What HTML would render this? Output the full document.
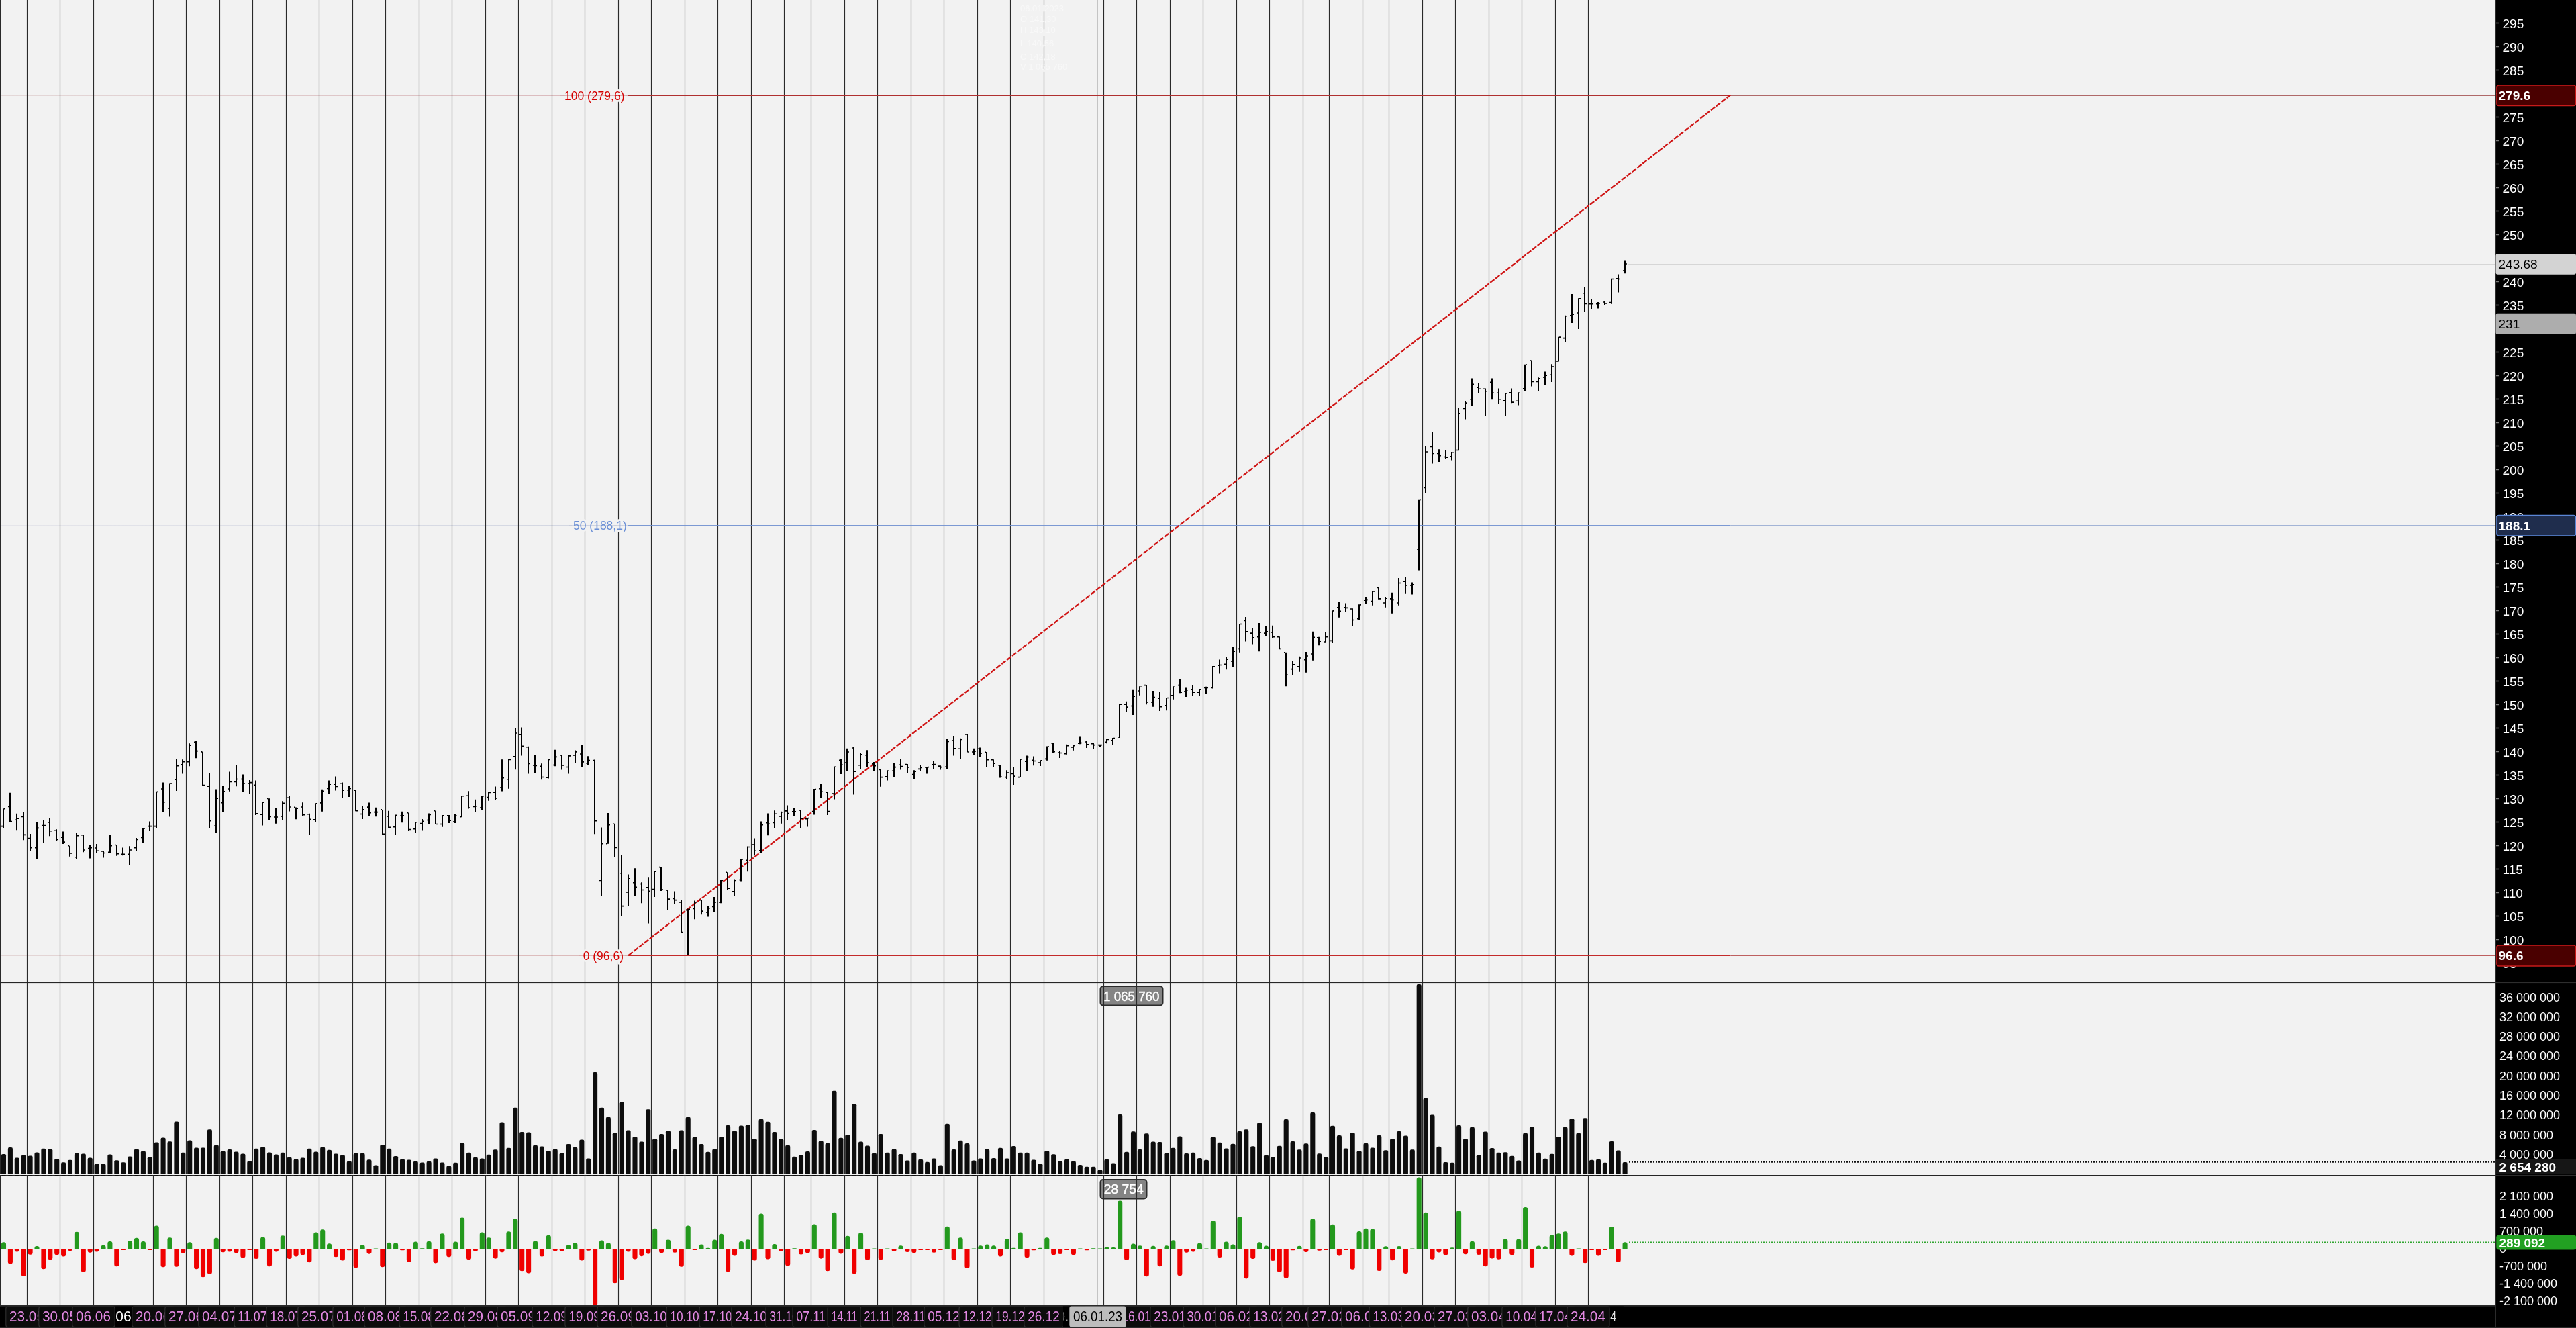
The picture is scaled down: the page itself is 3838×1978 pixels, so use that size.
<!DOCTYPE html>
<html><head><meta charset="utf-8"><title>Chart</title>
<style>html,body{margin:0;padding:0;background:#f2f2f2;}body{width:3838px;height:1978px;overflow:hidden;}svg{display:block;will-change:transform;}text{font-family:"Liberation Sans",Arial,sans-serif;}</style>
</head><body>
<svg width="3838" height="1978" viewBox="0 0 3838 1978">
<rect x="0" y="0" width="3838" height="1978" fill="#f2f2f2"/>
<rect x="0" y="482.0" width="3717" height="1" fill="#cfcfcf"/>
<rect x="2425" y="393.2" width="1292" height="1" fill="#cfcfcf"/>
<linearGradient id="fg0" x1="0" y1="0" x2="936" y2="0" gradientUnits="userSpaceOnUse"><stop offset="0" stop-color="#e0d2d2"/><stop offset="1" stop-color="#d4a9ad"/></linearGradient>
<rect x="0" y="141.80" width="936" height="1" fill="url(#fg0)"/>
<linearGradient id="fg1" x1="0" y1="0" x2="936" y2="0" gradientUnits="userSpaceOnUse"><stop offset="0" stop-color="#e0e0e7"/><stop offset="1" stop-color="#c3c9da"/></linearGradient>
<rect x="0" y="782.30" width="936" height="1" fill="url(#fg1)"/>
<linearGradient id="fg2" x1="0" y1="0" x2="936" y2="0" gradientUnits="userSpaceOnUse"><stop offset="0" stop-color="#e0d0d0"/><stop offset="1" stop-color="#d6aaaa"/></linearGradient>
<rect x="0" y="1422.80" width="936" height="1" fill="url(#fg2)"/>
<rect x="1639.5" y="1469" width="93" height="28.5" rx="4" fill="#848484" stroke="#2b2b2b" stroke-width="2"/>
<text x="1644" y="1490.5" font-size="20" fill="#fff" stroke="#fff" stroke-width="0.45" textLength="83.5" lengthAdjust="spacingAndGlyphs">1 065 760</text>
<rect x="1639.5" y="1757" width="69" height="28.5" rx="4" fill="#848484" stroke="#2b2b2b" stroke-width="2"/>
<text x="1644.8" y="1778.4" font-size="20" fill="#fff" stroke="#fff" stroke-width="0.45" textLength="59" lengthAdjust="spacingAndGlyphs">28 754</text>
<path d="M0 0V1943.5M40 0V1943.5M89 0V1943.5M139 0V1943.5M228 0V1943.5M277 0V1943.5M327 0V1943.5M376 0V1943.5M426 0V1943.5M475 0V1943.5M525 0V1943.5M574 0V1943.5M624 0V1943.5M673 0V1943.5M723 0V1943.5M772 0V1943.5M822 0V1943.5M871 0V1943.5M921 0V1943.5M970 0V1943.5M1020 0V1943.5M1069 0V1943.5M1119 0V1943.5M1168 0V1943.5M1208 0V1943.5M1258 0V1943.5M1307 0V1943.5M1357 0V1943.5M1406 0V1943.5M1456 0V1943.5M1505 0V1943.5M1555 0V1943.5M1644 0V1943.5M1693 0V1943.5M1743 0V1943.5M1792 0V1943.5M1842 0V1943.5M1891 0V1943.5M1941 0V1943.5M1980 0V1943.5M2030 0V1943.5M2069 0V1943.5M2119 0V1943.5M2168 0V1943.5M2218 0V1943.5M2267 0V1943.5M2317 0V1943.5M2366 0V1943.5" stroke="#2a2a2a" stroke-width="1.15" fill="none" transform="translate(0.5,0)"/>
<rect x="1635" y="0" width="1" height="1943.5" fill="#c4c4c4"/>
<text x="1520" y="16.5" font-size="13" fill="#f8f8f8">06.01.2023</text>
<text x="1520" y="33.0" font-size="13" fill="#f8f8f8">O 141,30</text>
<text x="1520" y="48.5" font-size="13" fill="#f8f8f8">H 143,10</text>
<text x="1520" y="69.0" font-size="13" fill="#f8f8f8">L 140,56</text>
<text x="1520" y="89.0" font-size="13" fill="#f8f8f8">C 142,18</text>
<text x="1520" y="104.0" font-size="13" fill="#f8f8f8">V 1 065 760</text>
<rect x="1554" y="7.4" width="3" height="9.9" fill="#f2f2f2"/>
<rect x="1554" y="43.3" width="3" height="10.4" fill="#f2f2f2"/>
<rect x="1554" y="66.7" width="3" height="1.7" fill="#f2f2f2"/>
<rect x="1554" y="103.5" width="3" height="3.4" fill="#f2f2f2"/>
<text x="841.0" y="148.5" font-size="17.5" fill="#f2f2f2" stroke="#f2f2f2" stroke-width="6" stroke-linejoin="round">100 (279,6)</text>
<text x="854.0" y="789.0" font-size="17.5" fill="#f2f2f2" stroke="#f2f2f2" stroke-width="6" stroke-linejoin="round">50 (188,1)</text>
<text x="868.7" y="1429.5" font-size="17.5" fill="#f2f2f2" stroke="#f2f2f2" stroke-width="6" stroke-linejoin="round">0 (96,6)</text>
<rect x="835.0" y="141.80" width="101.0" height="1" fill="#d4a9ad"/>
<rect x="936" y="141.60" width="1642.4" height="1.4" fill="#b03030"/>
<rect x="2578.4" y="141.70" width="1138.6" height="1.2" fill="#a85a5a"/>
<text x="841.0" y="148.5" font-size="17.5" fill="#d40000">100 (279,6)</text>
<rect x="848.0" y="782.30" width="88.0" height="1" fill="#c3c9da"/>
<rect x="936" y="782.10" width="1642.4" height="1.4" fill="#6f8fd0"/>
<rect x="2578.4" y="782.20" width="1138.6" height="1.2" fill="#8fa5cf"/>
<text x="854.0" y="789.0" font-size="17.5" fill="#6a8fd6">50 (188,1)</text>
<rect x="862.7" y="1422.80" width="73.3" height="1" fill="#d6aaaa"/>
<rect x="936" y="1422.60" width="1642.4" height="1.4" fill="#c42b2b"/>
<rect x="2578.4" y="1422.70" width="1138.6" height="1.2" fill="#b85050"/>
<text x="868.7" y="1429.5" font-size="17.5" fill="#d40000">0 (96,6)</text>
<line x1="936" y1="1423.3" x2="2578.4" y2="141.4" stroke="#cf1414" stroke-width="2.3" stroke-dasharray="7.9 2.03" stroke-dashoffset="-0.6"/>
<path d="M4.0 1204.2h2V1233.4h-2ZM2.0 1229.79h2v1.6h-2ZM6.0 1203.81h2v1.6h-2ZM14.0 1180.7h2V1224.0h-2ZM12.0 1200.61h2v1.6h-2ZM16.0 1222.64h2v1.6h-2ZM24.0 1211.8h2V1236.2h-2ZM22.0 1220.38h2v1.6h-2ZM26.0 1218.49h2v1.6h-2ZM34.0 1209.9h2V1251.3h-2ZM32.0 1215.67h2v1.6h-2ZM36.0 1242.59h2v1.6h-2ZM44.0 1241.9h2V1267.3h-2ZM42.0 1247.67h2v1.6h-2ZM46.0 1261.79h2v1.6h-2ZM54.0 1224.9h2V1279.2h-2ZM52.0 1261.79h2v1.6h-2ZM56.0 1232.61h2v1.6h-2ZM64.0 1221.2h2V1255.6h-2ZM62.0 1228.85h2v1.6h-2ZM66.0 1228.85h2v1.6h-2ZM73.0 1218.0h2V1245.3h-2ZM71.0 1224.14h2v1.6h-2ZM75.0 1236.94h2v1.6h-2ZM83.0 1235.3h2V1252.8h-2ZM81.0 1236.38h2v1.6h-2ZM85.0 1249.55h2v1.6h-2ZM93.0 1238.5h2V1256.9h-2ZM91.0 1246.35h2v1.6h-2ZM95.0 1253.32h2v1.6h-2ZM103.0 1259.8h2V1275.8h-2ZM101.0 1258.96h2v1.6h-2ZM105.0 1270.26h2v1.6h-2ZM113.0 1240.9h2V1279.9h-2ZM111.0 1275.91h2v1.6h-2ZM115.0 1243.91h2v1.6h-2ZM123.0 1243.4h2V1269.2h-2ZM121.0 1242.96h2v1.6h-2ZM125.0 1265.18h2v1.6h-2ZM133.0 1257.9h2V1278.6h-2ZM131.0 1262.73h2v1.6h-2ZM135.0 1261.79h2v1.6h-2ZM143.0 1256.9h2V1271.1h-2ZM141.0 1262.16h2v1.6h-2ZM145.0 1266.49h2v1.6h-2ZM153.0 1267.3h2V1277.6h-2ZM151.0 1267.06h2v1.6h-2ZM155.0 1269.69h2v1.6h-2ZM163.0 1244.1h2V1270.5h-2ZM161.0 1268.38h2v1.6h-2ZM165.0 1258.96h2v1.6h-2ZM173.0 1257.9h2V1274.8h-2ZM171.0 1257.65h2v1.6h-2ZM175.0 1270.82h2v1.6h-2ZM182.0 1262.6h2V1274.3h-2ZM180.0 1271.58h2v1.6h-2ZM184.0 1271.58h2v1.6h-2ZM192.0 1260.3h2V1288.0h-2ZM190.0 1271.58h2v1.6h-2ZM194.0 1265.18h2v1.6h-2ZM202.0 1247.9h2V1267.9h-2ZM200.0 1261.79h2v1.6h-2ZM204.0 1249.55h2v1.6h-2ZM212.0 1233.4h2V1256.0h-2ZM210.0 1246.73h2v1.6h-2ZM214.0 1233.18h2v1.6h-2ZM222.0 1223.4h2V1237.2h-2ZM220.0 1229.79h2v1.6h-2ZM224.0 1229.79h2v1.6h-2ZM232.0 1178.8h2V1233.4h-2ZM230.0 1229.79h2v1.6h-2ZM234.0 1178.59h2v1.6h-2ZM242.0 1165.6h2V1208.9h-2ZM240.0 1174.26h2v1.6h-2ZM244.0 1194.02h2v1.6h-2ZM252.0 1166.6h2V1216.5h-2ZM250.0 1203.06h2v1.6h-2ZM254.0 1166.16h2v1.6h-2ZM262.0 1130.8h2V1177.9h-2ZM260.0 1160.52h2v1.6h-2ZM264.0 1139.81h2v1.6h-2ZM271.0 1131.2h2V1152.5h-2ZM269.0 1137.93h2v1.6h-2ZM273.0 1133.79h2v1.6h-2ZM281.0 1107.3h2V1141.2h-2ZM279.0 1133.79h2v1.6h-2ZM283.0 1109.32h2v1.6h-2ZM291.0 1103.5h2V1129.3h-2ZM289.0 1104.61h2v1.6h-2ZM293.0 1117.79h2v1.6h-2ZM301.0 1119.5h2V1170.0h-2ZM299.0 1119.11h2v1.6h-2ZM303.0 1168.80h2v1.6h-2ZM311.0 1151.5h2V1234.0h-2ZM309.0 1170.49h2v1.6h-2ZM313.0 1221.88h2v1.6h-2ZM321.0 1175.6h2V1240.9h-2ZM319.0 1229.41h2v1.6h-2ZM323.0 1188.38h2v1.6h-2ZM331.0 1170.0h2V1208.9h-2ZM329.0 1194.96h2v1.6h-2ZM333.0 1178.02h2v1.6h-2ZM341.0 1149.6h2V1178.8h-2ZM339.0 1174.26h2v1.6h-2ZM343.0 1163.53h2v1.6h-2ZM351.0 1139.9h2V1171.3h-2ZM349.0 1163.53h2v1.6h-2ZM353.0 1159.76h2v1.6h-2ZM361.0 1153.4h2V1180.1h-2ZM359.0 1159.76h2v1.6h-2ZM363.0 1166.16h2v1.6h-2ZM371.0 1161.9h2V1182.6h-2ZM369.0 1166.16h2v1.6h-2ZM373.0 1164.85h2v1.6h-2ZM380.0 1162.4h2V1214.0h-2ZM378.0 1168.61h2v1.6h-2ZM382.0 1210.96h2v1.6h-2ZM390.0 1194.4h2V1229.6h-2ZM388.0 1212.47h2v1.6h-2ZM392.0 1194.40h2v1.6h-2ZM400.0 1189.2h2V1221.2h-2ZM398.0 1188.75h2v1.6h-2ZM402.0 1215.67h2v1.6h-2ZM410.0 1203.3h2V1226.8h-2ZM408.0 1216.24h2v1.6h-2ZM412.0 1216.24h2v1.6h-2ZM420.0 1193.3h2V1222.1h-2ZM418.0 1215.11h2v1.6h-2ZM422.0 1195.53h2v1.6h-2ZM430.0 1185.8h2V1208.4h-2ZM428.0 1187.44h2v1.6h-2ZM432.0 1201.18h2v1.6h-2ZM440.0 1202.4h2V1220.2h-2ZM438.0 1201.55h2v1.6h-2ZM442.0 1203.44h2v1.6h-2ZM450.0 1195.2h2V1215.9h-2ZM448.0 1201.18h2v1.6h-2ZM452.0 1212.85h2v1.6h-2ZM460.0 1211.8h2V1243.4h-2ZM458.0 1211.91h2v1.6h-2ZM462.0 1219.44h2v1.6h-2ZM469.0 1196.3h2V1224.0h-2ZM467.0 1220.00h2v1.6h-2ZM471.0 1195.91h2v1.6h-2ZM479.0 1175.8h2V1208.7h-2ZM477.0 1195.11h2v1.6h-2ZM481.0 1177.41h2v1.6h-2ZM489.0 1162.6h2V1182.4h-2ZM487.0 1173.65h2v1.6h-2ZM491.0 1167.44h2v1.6h-2ZM499.0 1156.4h2V1177.6h-2ZM497.0 1167.44h2v1.6h-2ZM501.0 1170.64h2v1.6h-2ZM509.0 1165.4h2V1188.4h-2ZM507.0 1166.49h2v1.6h-2ZM511.0 1176.28h2v1.6h-2ZM519.0 1170.7h2V1187.1h-2ZM517.0 1175.91h2v1.6h-2ZM521.0 1173.65h2v1.6h-2ZM529.0 1176.7h2V1208.3h-2ZM527.0 1176.47h2v1.6h-2ZM531.0 1206.96h2v1.6h-2ZM539.0 1200.2h2V1220.0h-2ZM537.0 1211.67h2v1.6h-2ZM541.0 1205.08h2v1.6h-2ZM549.0 1195.5h2V1215.3h-2ZM547.0 1201.32h2v1.6h-2ZM551.0 1209.79h2v1.6h-2ZM559.0 1202.7h2V1216.2h-2ZM557.0 1208.85h2v1.6h-2ZM561.0 1208.85h2v1.6h-2ZM569.0 1205.9h2V1243.0h-2ZM567.0 1205.08h2v1.6h-2ZM571.0 1241.41h2v1.6h-2ZM578.0 1207.8h2V1234.1h-2ZM576.0 1215.06h2v1.6h-2ZM580.0 1231.44h2v1.6h-2ZM588.0 1213.4h2V1243.0h-2ZM586.0 1230.87h2v1.6h-2ZM590.0 1213.55h2v1.6h-2ZM598.0 1208.7h2V1225.3h-2ZM596.0 1214.49h2v1.6h-2ZM600.0 1213.93h2v1.6h-2ZM608.0 1210.6h2V1236.9h-2ZM606.0 1209.79h2v1.6h-2ZM610.0 1234.64h2v1.6h-2ZM618.0 1224.1h2V1241.1h-2ZM616.0 1233.88h2v1.6h-2ZM620.0 1223.91h2v1.6h-2ZM628.0 1220.0h2V1236.6h-2ZM626.0 1225.79h2v1.6h-2ZM630.0 1222.59h2v1.6h-2ZM638.0 1211.5h2V1227.2h-2ZM636.0 1220.71h2v1.6h-2ZM640.0 1212.61h2v1.6h-2ZM648.0 1207.4h2V1227.9h-2ZM646.0 1206.96h2v1.6h-2ZM650.0 1226.73h2v1.6h-2ZM658.0 1214.0h2V1231.7h-2ZM656.0 1226.73h2v1.6h-2ZM660.0 1213.93h2v1.6h-2ZM668.0 1214.0h2V1226.0h-2ZM666.0 1213.93h2v1.6h-2ZM670.0 1221.46h2v1.6h-2ZM677.0 1212.8h2V1226.0h-2ZM675.0 1223.34h2v1.6h-2ZM679.0 1214.49h2v1.6h-2ZM687.0 1185.2h2V1217.2h-2ZM685.0 1215.81h2v1.6h-2ZM689.0 1184.94h2v1.6h-2ZM697.0 1178.2h2V1204.6h-2ZM695.0 1184.38h2v1.6h-2ZM699.0 1202.26h2v1.6h-2ZM707.0 1190.8h2V1209.6h-2ZM705.0 1200.75h2v1.6h-2ZM709.0 1200.00h2v1.6h-2ZM717.0 1185.2h2V1205.9h-2ZM715.0 1202.26h2v1.6h-2ZM719.0 1184.94h2v1.6h-2ZM727.0 1179.5h2V1192.7h-2ZM725.0 1186.82h2v1.6h-2ZM729.0 1179.67h2v1.6h-2ZM737.0 1171.4h2V1191.8h-2ZM735.0 1179.29h2v1.6h-2ZM739.0 1188.14h2v1.6h-2ZM747.0 1131.2h2V1178.6h-2ZM745.0 1172.14h2v1.6h-2ZM749.0 1158.02h2v1.6h-2ZM757.0 1130.6h2V1174.8h-2ZM755.0 1159.91h2v1.6h-2ZM759.0 1130.73h2v1.6h-2ZM767.0 1084.8h2V1146.2h-2ZM765.0 1126.02h2v1.6h-2ZM769.0 1091.20h2v1.6h-2ZM776.0 1083.5h2V1125.5h-2ZM774.0 1093.46h2v1.6h-2ZM778.0 1110.40h2v1.6h-2ZM786.0 1111.8h2V1152.6h-2ZM784.0 1111.91h2v1.6h-2ZM788.0 1136.75h2v1.6h-2ZM796.0 1124.9h2V1151.9h-2ZM794.0 1139.20h2v1.6h-2ZM798.0 1139.76h2v1.6h-2ZM806.0 1137.2h2V1161.3h-2ZM804.0 1140.52h2v1.6h-2ZM808.0 1156.71h2v1.6h-2ZM816.0 1130.6h2V1159.4h-2ZM814.0 1157.46h2v1.6h-2ZM818.0 1130.73h2v1.6h-2ZM826.0 1116.8h2V1141.3h-2ZM824.0 1138.64h2v1.6h-2ZM828.0 1126.59h2v1.6h-2ZM836.0 1124.0h2V1146.6h-2ZM834.0 1124.14h2v1.6h-2ZM838.0 1139.20h2v1.6h-2ZM846.0 1124.9h2V1152.6h-2ZM844.0 1141.65h2v1.6h-2ZM848.0 1125.08h2v1.6h-2ZM856.0 1117.4h2V1136.2h-2ZM854.0 1124.14h2v1.6h-2ZM858.0 1119.06h2v1.6h-2ZM866.0 1109.9h2V1141.9h-2ZM864.0 1122.26h2v1.6h-2ZM868.0 1134.12h2v1.6h-2ZM875.0 1126.3h2V1139.4h-2ZM873.0 1136.00h2v1.6h-2ZM877.0 1131.67h2v1.6h-2ZM885.0 1131.5h2V1242.2h-2ZM883.0 1131.67h2v1.6h-2ZM887.0 1222.02h2v1.6h-2ZM895.0 1232.4h2V1334.0h-2ZM893.0 1310.61h2v1.6h-2ZM897.0 1256.02h2v1.6h-2ZM905.0 1211.1h2V1256.8h-2ZM903.0 1256.02h2v1.6h-2ZM907.0 1227.79h2v1.6h-2ZM915.0 1226.7h2V1277.0h-2ZM913.0 1226.47h2v1.6h-2ZM917.0 1261.67h2v1.6h-2ZM925.0 1273.8h2V1364.1h-2ZM923.0 1299.88h2v1.6h-2ZM927.0 1348.82h2v1.6h-2ZM935.0 1302.6h2V1349.6h-2ZM933.0 1328.12h2v1.6h-2ZM937.0 1307.41h2v1.6h-2ZM945.0 1293.2h2V1334.9h-2ZM943.0 1313.81h2v1.6h-2ZM947.0 1320.59h2v1.6h-2ZM955.0 1314.2h2V1345.3h-2ZM953.0 1315.69h2v1.6h-2ZM957.0 1324.73h2v1.6h-2ZM965.0 1306.3h2V1375.4h-2ZM963.0 1320.96h2v1.6h-2ZM967.0 1326.61h2v1.6h-2ZM974.0 1297.3h2V1335.9h-2ZM972.0 1323.79h2v1.6h-2ZM976.0 1297.44h2v1.6h-2ZM984.0 1291.6h2V1327.0h-2ZM982.0 1290.85h2v1.6h-2ZM986.0 1324.35h2v1.6h-2ZM994.0 1325.5h2V1355.3h-2ZM992.0 1325.11h2v1.6h-2ZM996.0 1338.28h2v1.6h-2ZM1004.0 1327.4h2V1345.9h-2ZM1002.0 1337.53h2v1.6h-2ZM1006.0 1339.79h2v1.6h-2ZM1014.0 1340.6h2V1389.9h-2ZM1012.0 1343.18h2v1.6h-2ZM1016.0 1387.79h2v1.6h-2ZM1024.0 1353.8h2V1423.0h-2ZM1022.0 1354.85h2v1.6h-2ZM1026.0 1353.34h2v1.6h-2ZM1034.0 1341.5h2V1369.2h-2ZM1032.0 1352.59h2v1.6h-2ZM1036.0 1343.18h2v1.6h-2ZM1044.0 1340.6h2V1362.2h-2ZM1042.0 1339.79h2v1.6h-2ZM1046.0 1356.35h2v1.6h-2ZM1054.0 1349.1h2V1365.4h-2ZM1052.0 1358.24h2v1.6h-2ZM1056.0 1352.02h2v1.6h-2ZM1063.0 1335.9h2V1359.0h-2ZM1061.0 1349.58h2v1.6h-2ZM1065.0 1343.18h2v1.6h-2ZM1073.0 1310.5h2V1345.3h-2ZM1071.0 1343.18h2v1.6h-2ZM1075.0 1310.61h2v1.6h-2ZM1083.0 1299.2h2V1325.2h-2ZM1081.0 1298.38h2v1.6h-2ZM1085.0 1322.47h2v1.6h-2ZM1093.0 1309.5h2V1334.0h-2ZM1091.0 1326.99h2v1.6h-2ZM1095.0 1310.61h2v1.6h-2ZM1103.0 1279.4h2V1312.4h-2ZM1101.0 1309.67h2v1.6h-2ZM1105.0 1279.18h2v1.6h-2ZM1113.0 1260.6h2V1298.2h-2ZM1111.0 1280.49h2v1.6h-2ZM1115.0 1260.73h2v1.6h-2ZM1123.0 1248.4h2V1274.3h-2ZM1121.0 1257.34h2v1.6h-2ZM1125.0 1266.38h2v1.6h-2ZM1133.0 1223.5h2V1270.9h-2ZM1131.0 1266.00h2v1.6h-2ZM1135.0 1227.79h2v1.6h-2ZM1143.0 1211.6h2V1244.2h-2ZM1141.0 1224.96h2v1.6h-2ZM1145.0 1226.47h2v1.6h-2ZM1153.0 1207.3h2V1233.3h-2ZM1151.0 1224.59h2v1.6h-2ZM1155.0 1211.41h2v1.6h-2ZM1163.0 1208.8h2V1226.7h-2ZM1161.0 1215.18h2v1.6h-2ZM1165.0 1208.96h2v1.6h-2ZM1172.0 1199.4h2V1221.1h-2ZM1170.0 1207.08h2v1.6h-2ZM1174.0 1210.85h2v1.6h-2ZM1182.0 1204.1h2V1215.4h-2ZM1180.0 1208.02h2v1.6h-2ZM1184.0 1208.02h2v1.6h-2ZM1192.0 1206.0h2V1232.9h-2ZM1190.0 1206.14h2v1.6h-2ZM1194.0 1218.38h2v1.6h-2ZM1202.0 1217.9h2V1231.4h-2ZM1200.0 1218.94h2v1.6h-2ZM1204.0 1217.81h2v1.6h-2ZM1212.0 1175.0h2V1213.6h-2ZM1210.0 1208.05h2v1.6h-2ZM1214.0 1174.73h2v1.6h-2ZM1222.0 1168.0h2V1188.1h-2ZM1220.0 1173.79h2v1.6h-2ZM1224.0 1178.49h2v1.6h-2ZM1232.0 1179.3h2V1214.1h-2ZM1230.0 1179.44h2v1.6h-2ZM1234.0 1207.86h2v1.6h-2ZM1242.0 1141.6h2V1190.6h-2ZM1240.0 1181.32h2v1.6h-2ZM1244.0 1141.41h2v1.6h-2ZM1252.0 1130.9h2V1152.9h-2ZM1250.0 1131.44h2v1.6h-2ZM1254.0 1138.40h2v1.6h-2ZM1261.0 1114.7h2V1148.2h-2ZM1259.0 1135.20h2v1.6h-2ZM1263.0 1119.20h2v1.6h-2ZM1271.0 1112.5h2V1183.6h-2ZM1269.0 1113.18h2v1.6h-2ZM1273.0 1148.38h2v1.6h-2ZM1281.0 1121.5h2V1145.4h-2ZM1279.0 1138.96h2v1.6h-2ZM1283.0 1122.96h2v1.6h-2ZM1291.0 1117.2h2V1142.6h-2ZM1289.0 1123.91h2v1.6h-2ZM1293.0 1135.20h2v1.6h-2ZM1301.0 1135.1h2V1148.2h-2ZM1299.0 1137.08h2v1.6h-2ZM1303.0 1139.91h2v1.6h-2ZM1311.0 1145.4h2V1171.8h-2ZM1309.0 1145.55h2v1.6h-2ZM1313.0 1156.85h2v1.6h-2ZM1321.0 1147.3h2V1162.4h-2ZM1319.0 1155.91h2v1.6h-2ZM1323.0 1147.44h2v1.6h-2ZM1331.0 1136.9h2V1157.6h-2ZM1329.0 1147.44h2v1.6h-2ZM1333.0 1141.79h2v1.6h-2ZM1341.0 1130.9h2V1146.4h-2ZM1339.0 1138.40h2v1.6h-2ZM1343.0 1140.85h2v1.6h-2ZM1351.0 1137.9h2V1151.6h-2ZM1349.0 1137.65h2v1.6h-2ZM1353.0 1142.16h2v1.6h-2ZM1361.0 1147.3h2V1160.5h-2ZM1359.0 1152.71h2v1.6h-2ZM1363.0 1148.38h2v1.6h-2ZM1370.0 1139.2h2V1148.2h-2ZM1368.0 1144.61h2v1.6h-2ZM1372.0 1142.73h2v1.6h-2ZM1380.0 1142.2h2V1152.4h-2ZM1378.0 1142.16h2v1.6h-2ZM1382.0 1141.79h2v1.6h-2ZM1390.0 1133.6h2V1145.4h-2ZM1388.0 1138.02h2v1.6h-2ZM1392.0 1137.65h2v1.6h-2ZM1400.0 1140.3h2V1146.4h-2ZM1398.0 1140.28h2v1.6h-2ZM1402.0 1141.79h2v1.6h-2ZM1410.0 1100.8h2V1145.4h-2ZM1408.0 1141.41h2v1.6h-2ZM1412.0 1103.76h2v1.6h-2ZM1420.0 1095.9h2V1125.6h-2ZM1418.0 1102.26h2v1.6h-2ZM1422.0 1113.93h2v1.6h-2ZM1430.0 1099.7h2V1130.4h-2ZM1428.0 1114.49h2v1.6h-2ZM1432.0 1100.75h2v1.6h-2ZM1440.0 1093.6h2V1120.4h-2ZM1438.0 1093.22h2v1.6h-2ZM1442.0 1119.20h2v1.6h-2ZM1450.0 1114.7h2V1124.7h-2ZM1448.0 1119.20h2v1.6h-2ZM1452.0 1118.26h2v1.6h-2ZM1459.0 1113.4h2V1127.9h-2ZM1457.0 1114.49h2v1.6h-2ZM1461.0 1121.08h2v1.6h-2ZM1469.0 1120.0h2V1142.2h-2ZM1467.0 1119.58h2v1.6h-2ZM1471.0 1130.87h2v1.6h-2ZM1479.0 1131.3h2V1142.6h-2ZM1477.0 1130.87h2v1.6h-2ZM1481.0 1136.52h2v1.6h-2ZM1489.0 1139.2h2V1158.6h-2ZM1487.0 1138.96h2v1.6h-2ZM1491.0 1156.47h2v1.6h-2ZM1499.0 1147.3h2V1159.9h-2ZM1497.0 1156.85h2v1.6h-2ZM1501.0 1150.26h2v1.6h-2ZM1509.0 1142.2h2V1168.9h-2ZM1507.0 1151.58h2v1.6h-2ZM1511.0 1155.34h2v1.6h-2ZM1519.0 1130.4h2V1158.0h-2ZM1517.0 1156.85h2v1.6h-2ZM1521.0 1130.12h2v1.6h-2ZM1529.0 1125.6h2V1148.2h-2ZM1527.0 1133.32h2v1.6h-2ZM1531.0 1126.73h2v1.6h-2ZM1539.0 1126.6h2V1140.3h-2ZM1537.0 1131.44h2v1.6h-2ZM1541.0 1132.75h2v1.6h-2ZM1549.0 1132.2h2V1141.1h-2ZM1547.0 1135.20h2v1.6h-2ZM1551.0 1132.00h2v1.6h-2ZM1559.0 1111.5h2V1132.8h-2ZM1557.0 1129.55h2v1.6h-2ZM1561.0 1111.29h2v1.6h-2ZM1568.0 1105.9h2V1121.5h-2ZM1566.0 1106.02h2v1.6h-2ZM1570.0 1118.82h2v1.6h-2ZM1578.0 1119.1h2V1129.0h-2ZM1576.0 1120.14h2v1.6h-2ZM1580.0 1120.71h2v1.6h-2ZM1588.0 1108.7h2V1123.8h-2ZM1586.0 1122.02h2v1.6h-2ZM1590.0 1109.79h2v1.6h-2ZM1598.0 1109.6h2V1117.7h-2ZM1596.0 1112.05h2v1.6h-2ZM1600.0 1109.79h2v1.6h-2ZM1608.0 1096.5h2V1108.3h-2ZM1606.0 1106.40h2v1.6h-2ZM1610.0 1105.65h2v1.6h-2ZM1618.0 1104.0h2V1114.0h-2ZM1616.0 1104.14h2v1.6h-2ZM1620.0 1107.91h2v1.6h-2ZM1628.0 1106.8h2V1115.3h-2ZM1626.0 1106.96h2v1.6h-2ZM1630.0 1108.85h2v1.6h-2ZM1638.0 1108.7h2V1112.5h-2ZM1636.0 1108.85h2v1.6h-2ZM1640.0 1108.85h2v1.6h-2ZM1648.0 1100.2h2V1107.2h-2ZM1646.0 1104.52h2v1.6h-2ZM1650.0 1100.75h2v1.6h-2ZM1657.0 1099.0h2V1109.6h-2ZM1655.0 1102.01h2v1.6h-2ZM1659.0 1098.85h2v1.6h-2ZM1667.0 1048.6h2V1099.0h-2ZM1665.0 1097.04h2v1.6h-2ZM1669.0 1048.47h2v1.6h-2ZM1677.0 1044.8h2V1059.9h-2ZM1675.0 1048.47h2v1.6h-2ZM1679.0 1052.31h2v1.6h-2ZM1687.0 1026.7h2V1065.1h-2ZM1685.0 1050.73h2v1.6h-2ZM1689.0 1036.50h2v1.6h-2ZM1697.0 1022.2h2V1035.7h-2ZM1695.0 1028.15h2v1.6h-2ZM1699.0 1022.50h2v1.6h-2ZM1707.0 1019.9h2V1049.3h-2ZM1705.0 1019.79h2v1.6h-2ZM1709.0 1045.09h2v1.6h-2ZM1717.0 1028.9h2V1052.7h-2ZM1715.0 1045.09h2v1.6h-2ZM1719.0 1037.86h2v1.6h-2ZM1727.0 1030.1h2V1059.0h-2ZM1725.0 1039.44h2v1.6h-2ZM1729.0 1051.86h2v1.6h-2ZM1737.0 1039.1h2V1058.3h-2ZM1735.0 1050.06h2v1.6h-2ZM1739.0 1038.76h2v1.6h-2ZM1747.0 1022.2h2V1041.8h-2ZM1745.0 1034.92h2v1.6h-2ZM1749.0 1022.50h2v1.6h-2ZM1757.0 1011.6h2V1032.3h-2ZM1755.0 1019.79h2v1.6h-2ZM1759.0 1030.40h2v1.6h-2ZM1766.0 1024.4h2V1038.0h-2ZM1764.0 1029.27h2v1.6h-2ZM1768.0 1027.02h2v1.6h-2ZM1776.0 1019.9h2V1036.9h-2ZM1774.0 1025.89h2v1.6h-2ZM1778.0 1030.40h2v1.6h-2ZM1786.0 1026.0h2V1036.9h-2ZM1784.0 1030.40h2v1.6h-2ZM1788.0 1025.89h2v1.6h-2ZM1796.0 1022.8h2V1033.5h-2ZM1794.0 1023.63h2v1.6h-2ZM1798.0 1023.63h2v1.6h-2ZM1806.0 992.1h2V1025.6h-2ZM1804.0 1023.63h2v1.6h-2ZM1808.0 992.00h2v1.6h-2ZM1816.0 982.6h2V1003.4h-2ZM1814.0 990.42h2v1.6h-2ZM1818.0 989.74h2v1.6h-2ZM1826.0 978.1h2V997.3h-2ZM1824.0 988.61h2v1.6h-2ZM1828.0 981.39h2v1.6h-2ZM1836.0 963.4h2V993.9h-2ZM1834.0 984.10h2v1.6h-2ZM1838.0 969.41h2v1.6h-2ZM1846.0 928.9h2V971.8h-2ZM1844.0 965.57h2v1.6h-2ZM1848.0 928.76h2v1.6h-2ZM1855.0 918.9h2V955.5h-2ZM1853.0 923.56h2v1.6h-2ZM1857.0 940.05h2v1.6h-2ZM1865.0 935.7h2V959.6h-2ZM1863.0 942.31h2v1.6h-2ZM1867.0 949.08h2v1.6h-2ZM1875.0 928.0h2V970.2h-2ZM1873.0 947.96h2v1.6h-2ZM1877.0 941.18h2v1.6h-2ZM1885.0 932.9h2V946.9h-2ZM1883.0 942.31h2v1.6h-2ZM1887.0 940.05h2v1.6h-2ZM1895.0 931.8h2V949.9h-2ZM1893.0 941.18h2v1.6h-2ZM1897.0 947.96h2v1.6h-2ZM1905.0 948.3h2V967.3h-2ZM1903.0 947.96h2v1.6h-2ZM1907.0 965.57h2v1.6h-2ZM1915.0 971.8h2V1022.2h-2ZM1913.0 971.00h2v1.6h-2ZM1917.0 1004.43h2v1.6h-2ZM1925.0 984.9h2V1005.2h-2ZM1923.0 995.84h2v1.6h-2ZM1927.0 989.07h2v1.6h-2ZM1935.0 977.7h2V1000.7h-2ZM1933.0 992.00h2v1.6h-2ZM1937.0 979.13h2v1.6h-2ZM1945.0 970.9h2V1001.8h-2ZM1943.0 981.84h2v1.6h-2ZM1947.0 976.19h2v1.6h-2ZM1955.0 940.8h2V983.8h-2ZM1953.0 973.25h2v1.6h-2ZM1957.0 948.41h2v1.6h-2ZM1964.0 948.8h2V961.2h-2ZM1962.0 949.08h2v1.6h-2ZM1966.0 954.28h2v1.6h-2ZM1974.0 942.0h2V956.7h-2ZM1972.0 955.18h2v1.6h-2ZM1976.0 947.96h2v1.6h-2ZM1984.0 909.2h2V957.8h-2ZM1982.0 953.60h2v1.6h-2ZM1986.0 909.10h2v1.6h-2ZM1994.0 896.8h2V919.8h-2ZM1992.0 903.91h2v1.6h-2ZM1996.0 909.55h2v1.6h-2ZM2004.0 898.6h2V911.5h-2ZM2002.0 903.91h2v1.6h-2ZM2006.0 904.59h2v1.6h-2ZM2014.0 906.3h2V932.9h-2ZM2012.0 906.17h2v1.6h-2ZM2016.0 922.66h2v1.6h-2ZM2024.0 900.2h2V923.5h-2ZM2022.0 920.85h2v1.6h-2ZM2026.0 900.07h2v1.6h-2ZM2034.0 888.9h2V899.1h-2ZM2032.0 893.29h2v1.6h-2ZM2036.0 892.61h2v1.6h-2ZM2044.0 880.5h2V901.8h-2ZM2042.0 894.87h2v1.6h-2ZM2046.0 880.19h2v1.6h-2ZM2053.0 874.7h2V892.7h-2ZM2051.0 874.54h2v1.6h-2ZM2055.0 891.03h2v1.6h-2ZM2063.0 888.9h2V904.7h-2ZM2061.0 897.13h2v1.6h-2ZM2065.0 890.35h2v1.6h-2ZM2073.0 882.8h2V913.7h-2ZM2071.0 891.03h2v1.6h-2ZM2075.0 892.61h2v1.6h-2ZM2083.0 861.1h2V901.8h-2ZM2081.0 897.13h2v1.6h-2ZM2085.0 867.77h2v1.6h-2ZM2093.0 858.9h2V883.7h-2ZM2091.0 865.51h2v1.6h-2ZM2095.0 871.15h2v1.6h-2ZM2103.0 867.4h2V885.5h-2ZM2101.0 871.15h2v1.6h-2ZM2105.0 870.02h2v1.6h-2ZM2113.0 743.8h2V849.5h-2ZM2111.0 817.12h2v1.6h-2ZM2115.0 743.54h2v1.6h-2ZM2123.0 664.3h2V733.9h-2ZM2121.0 725.64h2v1.6h-2ZM2125.0 672.20h2v1.6h-2ZM2133.0 643.9h2V690.4h-2ZM2131.0 664.74h2v1.6h-2ZM2135.0 674.68h2v1.6h-2ZM2143.0 669.3h2V687.9h-2ZM2141.0 674.68h2v1.6h-2ZM2145.0 677.91h2v1.6h-2ZM2153.0 670.5h2V683.7h-2ZM2151.0 679.65h2v1.6h-2ZM2155.0 680.40h2v1.6h-2ZM2162.0 673.0h2V685.4h-2ZM2160.0 678.91h2v1.6h-2ZM2164.0 673.44h2v1.6h-2ZM2172.0 607.6h2V671.3h-2ZM2170.0 669.71h2v1.6h-2ZM2174.0 615.02h2v1.6h-2ZM2182.0 597.2h2V624.5h-2ZM2180.0 607.56h2v1.6h-2ZM2184.0 599.36h2v1.6h-2ZM2192.0 563.6h2V604.1h-2ZM2190.0 593.89h2v1.6h-2ZM2194.0 571.52h2v1.6h-2ZM2202.0 570.3h2V586.0h-2ZM2200.0 576.49h2v1.6h-2ZM2204.0 578.48h2v1.6h-2ZM2212.0 578.5h2V620.0h-2ZM2210.0 578.48h2v1.6h-2ZM2214.0 581.96h2v1.6h-2ZM2222.0 563.6h2V595.2h-2ZM2220.0 568.53h2v1.6h-2ZM2224.0 584.44h2v1.6h-2ZM2232.0 578.5h2V602.1h-2ZM2230.0 584.44h2v1.6h-2ZM2234.0 593.89h2v1.6h-2ZM2242.0 585.2h2V619.5h-2ZM2240.0 595.88h2v1.6h-2ZM2244.0 585.19h2v1.6h-2ZM2251.0 578.5h2V600.2h-2ZM2249.0 583.95h2v1.6h-2ZM2253.0 598.36h2v1.6h-2ZM2261.0 584.2h2V603.4h-2ZM2259.0 596.38h2v1.6h-2ZM2263.0 584.44h2v1.6h-2ZM2271.0 542.8h2V582.6h-2ZM2269.0 578.08h2v1.6h-2ZM2273.0 542.33h2v1.6h-2ZM2281.0 536.5h2V575.5h-2ZM2279.0 536.31h2v1.6h-2ZM2283.0 567.73h2v1.6h-2ZM2291.0 562.3h2V582.3h-2ZM2289.0 567.73h2v1.6h-2ZM2293.0 563.03h2v1.6h-2ZM2301.0 553.5h2V572.9h-2ZM2299.0 561.15h2v1.6h-2ZM2303.0 558.32h2v1.6h-2ZM2311.0 542.2h2V569.1h-2ZM2309.0 557.38h2v1.6h-2ZM2313.0 545.15h2v1.6h-2ZM2321.0 501.7h2V538.4h-2ZM2319.0 537.06h2v1.6h-2ZM2323.0 501.30h2v1.6h-2ZM2331.0 469.7h2V509.6h-2ZM2329.0 502.81h2v1.6h-2ZM2333.0 469.88h2v1.6h-2ZM2341.0 438.1h2V481.0h-2ZM2339.0 468.94h2v1.6h-2ZM2343.0 467.43h2v1.6h-2ZM2351.0 444.3h2V490.1h-2ZM2349.0 465.17h2v1.6h-2ZM2353.0 444.10h2v1.6h-2ZM2360.0 428.0h2V464.1h-2ZM2358.0 436.00h2v1.6h-2ZM2362.0 451.62h2v1.6h-2ZM2370.0 444.9h2V460.0h-2ZM2368.0 452.00h2v1.6h-2ZM2372.0 452.00h2v1.6h-2ZM2380.0 450.0h2V459.4h-2ZM2378.0 452.00h2v1.6h-2ZM2382.0 451.06h2v1.6h-2ZM2390.0 448.7h2V454.7h-2ZM2388.0 449.18h2v1.6h-2ZM2392.0 451.06h2v1.6h-2ZM2400.0 414.8h2V452.8h-2ZM2398.0 449.74h2v1.6h-2ZM2402.0 414.74h2v1.6h-2ZM2410.0 408.6h2V435.5h-2ZM2408.0 413.99h2v1.6h-2ZM2412.0 414.74h2v1.6h-2ZM2420.0 388.4h2V407.3h-2ZM2418.0 402.13h2v1.6h-2ZM2422.0 392.16h2v1.6h-2Z" fill="#000"/>
<rect x="0" y="1462.2" width="3838" height="1.9" fill="#262626"/>
<rect x="0" y="1750.0" width="3838" height="1.9" fill="#262626"/>
<g fill="#0d0d0d"><rect x="1.95" y="1719.1" width="7.1" height="32.1" rx="2.2"/><rect x="11.85" y="1709.1" width="7.1" height="42.1" rx="2.2"/><rect x="21.75" y="1724.5" width="7.1" height="26.7" rx="2.2"/><rect x="31.65" y="1720.7" width="7.1" height="30.5" rx="2.2"/><rect x="41.55" y="1721.4" width="7.1" height="29.8" rx="2.2"/><rect x="51.45" y="1716.5" width="7.1" height="34.7" rx="2.2"/><rect x="61.35" y="1710.7" width="7.1" height="40.5" rx="2.2"/><rect x="71.25" y="1711.4" width="7.1" height="39.8" rx="2.2"/><rect x="81.15" y="1725.9" width="7.1" height="25.3" rx="2.2"/><rect x="91.05" y="1731.2" width="7.1" height="20.0" rx="2.2"/><rect x="100.95" y="1727.7" width="7.1" height="23.5" rx="2.2"/><rect x="110.85" y="1717.7" width="7.1" height="33.5" rx="2.2"/><rect x="120.75" y="1718.4" width="7.1" height="32.8" rx="2.2"/><rect x="130.65" y="1724.5" width="7.1" height="26.7" rx="2.2"/><rect x="140.55" y="1733.5" width="7.1" height="17.7" rx="2.2"/><rect x="150.45" y="1733.5" width="7.1" height="17.7" rx="2.2"/><rect x="160.35" y="1719.6" width="7.1" height="31.6" rx="2.2"/><rect x="170.25" y="1728.2" width="7.1" height="23.0" rx="2.2"/><rect x="180.15" y="1731.2" width="7.1" height="20.0" rx="2.2"/><rect x="190.05" y="1722.4" width="7.1" height="28.8" rx="2.2"/><rect x="199.95" y="1711.4" width="7.1" height="39.8" rx="2.2"/><rect x="209.85" y="1714.4" width="7.1" height="36.8" rx="2.2"/><rect x="219.75" y="1723.1" width="7.1" height="28.1" rx="2.2"/><rect x="229.65" y="1701.4" width="7.1" height="49.8" rx="2.2"/><rect x="239.55" y="1694.4" width="7.1" height="56.8" rx="2.2"/><rect x="249.45" y="1700.2" width="7.1" height="51.0" rx="2.2"/><rect x="259.35" y="1670.6" width="7.1" height="80.6" rx="2.2"/><rect x="269.25" y="1716.8" width="7.1" height="34.4" rx="2.2"/><rect x="279.15" y="1698.6" width="7.1" height="52.6" rx="2.2"/><rect x="289.05" y="1709.5" width="7.1" height="41.7" rx="2.2"/><rect x="298.95" y="1709.5" width="7.1" height="41.7" rx="2.2"/><rect x="308.85" y="1682.3" width="7.1" height="68.9" rx="2.2"/><rect x="318.75" y="1705.6" width="7.1" height="45.6" rx="2.2"/><rect x="328.65" y="1714.4" width="7.1" height="36.8" rx="2.2"/><rect x="338.55" y="1711.9" width="7.1" height="39.3" rx="2.2"/><rect x="348.45" y="1715.4" width="7.1" height="35.8" rx="2.2"/><rect x="358.35" y="1718.4" width="7.1" height="32.8" rx="2.2"/><rect x="368.25" y="1729.6" width="7.1" height="21.6" rx="2.2"/><rect x="378.15" y="1710.7" width="7.1" height="40.5" rx="2.2"/><rect x="388.05" y="1707.9" width="7.1" height="43.3" rx="2.2"/><rect x="397.95" y="1716.5" width="7.1" height="34.7" rx="2.2"/><rect x="407.85" y="1719.6" width="7.1" height="31.6" rx="2.2"/><rect x="417.75" y="1716.8" width="7.1" height="34.4" rx="2.2"/><rect x="427.65" y="1723.8" width="7.1" height="27.4" rx="2.2"/><rect x="437.55" y="1726.6" width="7.1" height="24.6" rx="2.2"/><rect x="447.45" y="1724.5" width="7.1" height="26.7" rx="2.2"/><rect x="457.35" y="1710.7" width="7.1" height="40.5" rx="2.2"/><rect x="467.25" y="1715.6" width="7.1" height="35.6" rx="2.2"/><rect x="477.15" y="1708.6" width="7.1" height="42.6" rx="2.2"/><rect x="487.05" y="1712.8" width="7.1" height="38.4" rx="2.2"/><rect x="496.95" y="1718.4" width="7.1" height="32.8" rx="2.2"/><rect x="506.85" y="1720.3" width="7.1" height="30.9" rx="2.2"/><rect x="516.75" y="1729.6" width="7.1" height="21.6" rx="2.2"/><rect x="526.65" y="1717.7" width="7.1" height="33.5" rx="2.2"/><rect x="536.55" y="1717.7" width="7.1" height="33.5" rx="2.2"/><rect x="546.45" y="1727.2" width="7.1" height="24.0" rx="2.2"/><rect x="556.35" y="1735.4" width="7.1" height="15.8" rx="2.2"/><rect x="566.25" y="1704.9" width="7.1" height="46.3" rx="2.2"/><rect x="576.15" y="1710.7" width="7.1" height="40.5" rx="2.2"/><rect x="586.05" y="1722.1" width="7.1" height="29.1" rx="2.2"/><rect x="595.95" y="1726.2" width="7.1" height="25.0" rx="2.2"/><rect x="605.85" y="1727.4" width="7.1" height="23.8" rx="2.2"/><rect x="615.75" y="1729.7" width="7.1" height="21.5" rx="2.2"/><rect x="625.65" y="1731.4" width="7.1" height="19.8" rx="2.2"/><rect x="635.55" y="1729.7" width="7.1" height="21.5" rx="2.2"/><rect x="645.45" y="1725.5" width="7.1" height="25.7" rx="2.2"/><rect x="655.35" y="1731.4" width="7.1" height="19.8" rx="2.2"/><rect x="665.25" y="1736.5" width="7.1" height="14.7" rx="2.2"/><rect x="675.15" y="1731.8" width="7.1" height="19.4" rx="2.2"/><rect x="685.05" y="1702.3" width="7.1" height="48.9" rx="2.2"/><rect x="694.95" y="1716.7" width="7.1" height="34.5" rx="2.2"/><rect x="704.85" y="1723.7" width="7.1" height="27.5" rx="2.2"/><rect x="714.75" y="1725.5" width="7.1" height="25.7" rx="2.2"/><rect x="724.65" y="1719.7" width="7.1" height="31.5" rx="2.2"/><rect x="734.55" y="1712.3" width="7.1" height="38.9" rx="2.2"/><rect x="744.45" y="1671.5" width="7.1" height="79.7" rx="2.2"/><rect x="754.35" y="1709.7" width="7.1" height="41.5" rx="2.2"/><rect x="764.25" y="1649.8" width="7.1" height="101.4" rx="2.2"/><rect x="774.15" y="1685.9" width="7.1" height="65.3" rx="2.2"/><rect x="784.05" y="1686.4" width="7.1" height="64.8" rx="2.2"/><rect x="793.95" y="1705.7" width="7.1" height="45.5" rx="2.2"/><rect x="803.85" y="1707.6" width="7.1" height="43.6" rx="2.2"/><rect x="813.75" y="1713.9" width="7.1" height="37.3" rx="2.2"/><rect x="823.65" y="1711.6" width="7.1" height="39.6" rx="2.2"/><rect x="833.55" y="1717.4" width="7.1" height="33.8" rx="2.2"/><rect x="843.45" y="1703.9" width="7.1" height="47.3" rx="2.2"/><rect x="853.35" y="1708.8" width="7.1" height="42.4" rx="2.2"/><rect x="863.25" y="1697.6" width="7.1" height="53.6" rx="2.2"/><rect x="873.15" y="1725.5" width="7.1" height="25.7" rx="2.2"/><rect x="883.05" y="1597.0" width="7.1" height="154.2" rx="2.2"/><rect x="892.95" y="1649.8" width="7.1" height="101.4" rx="2.2"/><rect x="902.85" y="1663.8" width="7.1" height="87.4" rx="2.2"/><rect x="912.75" y="1687.1" width="7.1" height="64.1" rx="2.2"/><rect x="922.65" y="1641.2" width="7.1" height="110.0" rx="2.2"/><rect x="932.55" y="1683.6" width="7.1" height="67.6" rx="2.2"/><rect x="942.45" y="1692.9" width="7.1" height="58.3" rx="2.2"/><rect x="952.35" y="1700.6" width="7.1" height="50.6" rx="2.2"/><rect x="962.25" y="1652.2" width="7.1" height="99.0" rx="2.2"/><rect x="972.15" y="1696.0" width="7.1" height="55.2" rx="2.2"/><rect x="982.05" y="1689.0" width="7.1" height="62.2" rx="2.2"/><rect x="991.95" y="1684.1" width="7.1" height="67.1" rx="2.2"/><rect x="1001.85" y="1712.0" width="7.1" height="39.2" rx="2.2"/><rect x="1011.75" y="1683.6" width="7.1" height="67.6" rx="2.2"/><rect x="1021.65" y="1663.8" width="7.1" height="87.4" rx="2.2"/><rect x="1031.55" y="1693.6" width="7.1" height="57.6" rx="2.2"/><rect x="1041.45" y="1703.9" width="7.1" height="47.3" rx="2.2"/><rect x="1051.35" y="1715.8" width="7.1" height="35.4" rx="2.2"/><rect x="1061.25" y="1711.6" width="7.1" height="39.6" rx="2.2"/><rect x="1071.15" y="1692.9" width="7.1" height="58.3" rx="2.2"/><rect x="1081.05" y="1675.9" width="7.1" height="75.3" rx="2.2"/><rect x="1090.95" y="1684.1" width="7.1" height="67.1" rx="2.2"/><rect x="1100.85" y="1676.6" width="7.1" height="74.6" rx="2.2"/><rect x="1110.75" y="1675.0" width="7.1" height="76.2" rx="2.2"/><rect x="1120.65" y="1696.0" width="7.1" height="55.2" rx="2.2"/><rect x="1130.55" y="1666.8" width="7.1" height="84.4" rx="2.2"/><rect x="1140.45" y="1670.8" width="7.1" height="80.4" rx="2.2"/><rect x="1150.35" y="1685.9" width="7.1" height="65.3" rx="2.2"/><rect x="1160.25" y="1696.4" width="7.1" height="54.8" rx="2.2"/><rect x="1170.15" y="1705.7" width="7.1" height="45.5" rx="2.2"/><rect x="1180.05" y="1722.8" width="7.1" height="28.4" rx="2.2"/><rect x="1189.95" y="1720.4" width="7.1" height="30.8" rx="2.2"/><rect x="1199.85" y="1715.1" width="7.1" height="36.1" rx="2.2"/><rect x="1209.75" y="1682.9" width="7.1" height="68.3" rx="2.2"/><rect x="1219.65" y="1699.2" width="7.1" height="52.0" rx="2.2"/><rect x="1229.55" y="1702.7" width="7.1" height="48.5" rx="2.2"/><rect x="1239.45" y="1624.7" width="7.1" height="126.5" rx="2.2"/><rect x="1249.35" y="1694.8" width="7.1" height="56.4" rx="2.2"/><rect x="1259.25" y="1689.9" width="7.1" height="61.3" rx="2.2"/><rect x="1269.15" y="1644.0" width="7.1" height="107.2" rx="2.2"/><rect x="1279.05" y="1700.6" width="7.1" height="50.6" rx="2.2"/><rect x="1288.95" y="1706.4" width="7.1" height="44.8" rx="2.2"/><rect x="1298.85" y="1717.4" width="7.1" height="33.8" rx="2.2"/><rect x="1308.75" y="1689.0" width="7.1" height="62.2" rx="2.2"/><rect x="1318.65" y="1716.7" width="7.1" height="34.5" rx="2.2"/><rect x="1328.55" y="1711.6" width="7.1" height="39.6" rx="2.2"/><rect x="1338.45" y="1719.0" width="7.1" height="32.2" rx="2.2"/><rect x="1348.35" y="1728.6" width="7.1" height="22.6" rx="2.2"/><rect x="1358.25" y="1716.7" width="7.1" height="34.5" rx="2.2"/><rect x="1368.15" y="1726.7" width="7.1" height="24.5" rx="2.2"/><rect x="1378.05" y="1730.7" width="7.1" height="20.5" rx="2.2"/><rect x="1387.95" y="1725.5" width="7.1" height="25.7" rx="2.2"/><rect x="1397.85" y="1735.6" width="7.1" height="15.6" rx="2.2"/><rect x="1407.75" y="1673.8" width="7.1" height="77.4" rx="2.2"/><rect x="1417.65" y="1712.0" width="7.1" height="39.2" rx="2.2"/><rect x="1427.55" y="1698.8" width="7.1" height="52.4" rx="2.2"/><rect x="1437.45" y="1703.0" width="7.1" height="48.2" rx="2.2"/><rect x="1447.35" y="1728.6" width="7.1" height="22.6" rx="2.2"/><rect x="1457.25" y="1725.5" width="7.1" height="25.7" rx="2.2"/><rect x="1467.15" y="1711.6" width="7.1" height="39.6" rx="2.2"/><rect x="1477.05" y="1725.1" width="7.1" height="26.1" rx="2.2"/><rect x="1486.95" y="1709.7" width="7.1" height="41.5" rx="2.2"/><rect x="1496.85" y="1725.5" width="7.1" height="25.7" rx="2.2"/><rect x="1506.75" y="1706.9" width="7.1" height="44.3" rx="2.2"/><rect x="1516.65" y="1716.7" width="7.1" height="34.5" rx="2.2"/><rect x="1526.55" y="1716.7" width="7.1" height="34.5" rx="2.2"/><rect x="1536.45" y="1727.4" width="7.1" height="23.8" rx="2.2"/><rect x="1546.35" y="1733.0" width="7.1" height="18.2" rx="2.2"/><rect x="1556.25" y="1713.9" width="7.1" height="37.3" rx="2.2"/><rect x="1566.15" y="1719.3" width="7.1" height="31.9" rx="2.2"/><rect x="1576.05" y="1729.5" width="7.1" height="21.7" rx="2.2"/><rect x="1585.95" y="1726.7" width="7.1" height="24.5" rx="2.2"/><rect x="1595.85" y="1729.5" width="7.1" height="21.7" rx="2.2"/><rect x="1605.75" y="1734.9" width="7.1" height="16.3" rx="2.2"/><rect x="1615.65" y="1737.7" width="7.1" height="13.5" rx="2.2"/><rect x="1625.55" y="1737.7" width="7.1" height="13.5" rx="2.2"/><rect x="1635.45" y="1742.3" width="7.1" height="8.9" rx="2.2"/><rect x="1645.35" y="1726.7" width="7.1" height="24.5" rx="2.2"/><rect x="1655.25" y="1732.5" width="7.1" height="18.7" rx="2.2"/><rect x="1665.15" y="1659.9" width="7.1" height="91.3" rx="2.2"/><rect x="1675.05" y="1715.8" width="7.1" height="35.4" rx="2.2"/><rect x="1684.95" y="1685.3" width="7.1" height="65.9" rx="2.2"/><rect x="1694.85" y="1712.0" width="7.1" height="39.2" rx="2.2"/><rect x="1704.75" y="1688.3" width="7.1" height="62.9" rx="2.2"/><rect x="1714.65" y="1700.6" width="7.1" height="50.6" rx="2.2"/><rect x="1724.55" y="1701.1" width="7.1" height="50.1" rx="2.2"/><rect x="1734.45" y="1717.4" width="7.1" height="33.8" rx="2.2"/><rect x="1744.35" y="1709.7" width="7.1" height="41.5" rx="2.2"/><rect x="1754.25" y="1692.5" width="7.1" height="58.7" rx="2.2"/><rect x="1764.15" y="1718.1" width="7.1" height="33.1" rx="2.2"/><rect x="1774.05" y="1716.8" width="7.1" height="34.4" rx="2.2"/><rect x="1783.95" y="1724.9" width="7.1" height="26.3" rx="2.2"/><rect x="1793.85" y="1727.7" width="7.1" height="23.5" rx="2.2"/><rect x="1803.75" y="1693.2" width="7.1" height="58.0" rx="2.2"/><rect x="1813.65" y="1701.8" width="7.1" height="49.4" rx="2.2"/><rect x="1823.55" y="1710.5" width="7.1" height="40.7" rx="2.2"/><rect x="1833.45" y="1703.8" width="7.1" height="47.5" rx="2.2"/><rect x="1843.35" y="1685.0" width="7.1" height="66.2" rx="2.2"/><rect x="1853.25" y="1682.3" width="7.1" height="68.9" rx="2.2"/><rect x="1863.15" y="1707.3" width="7.1" height="43.9" rx="2.2"/><rect x="1873.05" y="1672.0" width="7.1" height="79.2" rx="2.2"/><rect x="1882.95" y="1720.3" width="7.1" height="30.9" rx="2.2"/><rect x="1892.85" y="1723.6" width="7.1" height="27.6" rx="2.2"/><rect x="1902.75" y="1706.7" width="7.1" height="44.5" rx="2.2"/><rect x="1912.65" y="1667.1" width="7.1" height="84.1" rx="2.2"/><rect x="1922.55" y="1699.9" width="7.1" height="51.3" rx="2.2"/><rect x="1932.45" y="1712.2" width="7.1" height="39.0" rx="2.2"/><rect x="1942.35" y="1703.2" width="7.1" height="48.0" rx="2.2"/><rect x="1952.25" y="1657.0" width="7.1" height="94.2" rx="2.2"/><rect x="1962.15" y="1718.2" width="7.1" height="33.0" rx="2.2"/><rect x="1972.05" y="1723.0" width="7.1" height="28.2" rx="2.2"/><rect x="1981.95" y="1676.8" width="7.1" height="74.4" rx="2.2"/><rect x="1991.85" y="1691.0" width="7.1" height="60.2" rx="2.2"/><rect x="2001.75" y="1710.5" width="7.1" height="40.7" rx="2.2"/><rect x="2011.65" y="1686.9" width="7.1" height="64.3" rx="2.2"/><rect x="2021.55" y="1714.1" width="7.1" height="37.1" rx="2.2"/><rect x="2031.45" y="1702.7" width="7.1" height="48.5" rx="2.2"/><rect x="2041.35" y="1709.5" width="7.1" height="41.7" rx="2.2"/><rect x="2051.25" y="1691.0" width="7.1" height="60.2" rx="2.2"/><rect x="2061.15" y="1713.3" width="7.1" height="37.9" rx="2.2"/><rect x="2071.05" y="1695.9" width="7.1" height="55.3" rx="2.2"/><rect x="2080.95" y="1685.0" width="7.1" height="66.2" rx="2.2"/><rect x="2090.85" y="1691.5" width="7.1" height="59.7" rx="2.2"/><rect x="2100.75" y="1712.2" width="7.1" height="39.0" rx="2.2"/><rect x="2110.65" y="1466.0" width="7.1" height="285.2" rx="2.2"/><rect x="2120.55" y="1635.8" width="7.1" height="115.4" rx="2.2"/><rect x="2130.45" y="1660.5" width="7.1" height="90.7" rx="2.2"/><rect x="2140.35" y="1707.8" width="7.1" height="43.4" rx="2.2"/><rect x="2150.25" y="1730.9" width="7.1" height="20.3" rx="2.2"/><rect x="2160.15" y="1731.7" width="7.1" height="19.5" rx="2.2"/><rect x="2170.05" y="1676.0" width="7.1" height="75.2" rx="2.2"/><rect x="2179.95" y="1695.9" width="7.1" height="55.3" rx="2.2"/><rect x="2189.85" y="1678.8" width="7.1" height="72.5" rx="2.2"/><rect x="2199.75" y="1720.1" width="7.1" height="31.1" rx="2.2"/><rect x="2209.65" y="1685.5" width="7.1" height="65.7" rx="2.2"/><rect x="2219.55" y="1710.0" width="7.1" height="41.2" rx="2.2"/><rect x="2229.45" y="1716.8" width="7.1" height="34.4" rx="2.2"/><rect x="2239.35" y="1716.2" width="7.1" height="35.0" rx="2.2"/><rect x="2249.25" y="1721.7" width="7.1" height="29.5" rx="2.2"/><rect x="2259.15" y="1728.5" width="7.1" height="22.7" rx="2.2"/><rect x="2269.05" y="1687.7" width="7.1" height="63.5" rx="2.2"/><rect x="2278.95" y="1677.9" width="7.1" height="73.3" rx="2.2"/><rect x="2288.85" y="1716.8" width="7.1" height="34.4" rx="2.2"/><rect x="2298.75" y="1725.8" width="7.1" height="25.4" rx="2.2"/><rect x="2308.65" y="1718.7" width="7.1" height="32.5" rx="2.2"/><rect x="2318.55" y="1692.9" width="7.1" height="58.3" rx="2.2"/><rect x="2328.45" y="1678.8" width="7.1" height="72.5" rx="2.2"/><rect x="2338.35" y="1666.0" width="7.1" height="85.2" rx="2.2"/><rect x="2348.25" y="1687.7" width="7.1" height="63.5" rx="2.2"/><rect x="2358.15" y="1665.2" width="7.1" height="86.0" rx="2.2"/><rect x="2368.05" y="1727.7" width="7.1" height="23.5" rx="2.2"/><rect x="2377.95" y="1726.8" width="7.1" height="24.4" rx="2.2"/><rect x="2387.85" y="1731.7" width="7.1" height="19.5" rx="2.2"/><rect x="2397.75" y="1699.9" width="7.1" height="51.3" rx="2.2"/><rect x="2407.65" y="1713.5" width="7.1" height="37.7" rx="2.2"/><rect x="2417.55" y="1730.9" width="7.1" height="20.3" rx="2.2"/></g>
<rect x="0" y="1748.7" width="3717" height="1.3" fill="#f2f2f2"/>
<line x1="2427" y1="1730.9" x2="3717" y2="1730.9" stroke="#111" stroke-width="1.6" stroke-dasharray="2 2"/>
<path fill="#23991d" d="M1.95 1860.70V1853.48Q1.95 1850.18 5.25 1850.18H5.75Q9.05 1850.18 9.05 1853.48V1860.70ZM51.45 1860.70V1859.30Q51.45 1856.00 54.75 1856.00H55.25Q58.55 1856.00 58.55 1859.30V1860.70ZM110.85 1860.70V1838.11Q110.85 1834.81 114.15 1834.81H114.65Q117.95 1834.81 117.95 1838.11V1860.70ZM150.45 1860.70V1858.14Q150.45 1854.84 153.75 1854.84H154.25Q157.55 1854.84 157.55 1858.14V1860.70ZM160.35 1860.70V1852.31Q160.35 1849.01 163.65 1849.01H164.15Q167.45 1849.01 167.45 1852.31V1860.70ZM190.05 1860.70V1851.62Q190.05 1848.32 193.35 1848.32H193.85Q197.15 1848.32 197.15 1851.62V1860.70ZM199.95 1860.70V1846.96Q199.95 1843.66 203.25 1843.66H203.75Q207.05 1843.66 207.05 1846.96V1860.70ZM209.85 1860.70V1852.31Q209.85 1849.01 213.15 1849.01H213.65Q216.95 1849.01 216.95 1852.31V1860.70ZM229.65 1860.70V1828.79Q229.65 1825.49 232.95 1825.49H233.45Q236.75 1825.49 236.75 1828.79V1860.70ZM249.45 1860.70V1846.49Q249.45 1843.19 252.75 1843.19H253.25Q256.55 1843.19 256.55 1846.49V1860.70ZM279.15 1860.70V1853.48Q279.15 1850.18 282.45 1850.18H282.95Q286.25 1850.18 286.25 1853.48V1860.70ZM318.75 1860.70V1846.96Q318.75 1843.66 322.05 1843.66H322.55Q325.85 1843.66 325.85 1846.96V1860.70ZM388.05 1860.70V1845.79Q388.05 1842.49 391.35 1842.49H391.85Q395.15 1842.49 395.15 1845.79V1860.70ZM417.75 1860.70V1843.46Q417.75 1840.16 421.05 1840.16H421.55Q424.85 1840.16 424.85 1843.46V1860.70ZM467.25 1860.70V1838.80Q467.25 1835.50 470.55 1835.50H471.05Q474.35 1835.50 474.35 1838.80V1860.70ZM477.15 1860.70V1834.61Q477.15 1831.31 480.45 1831.31H480.95Q484.25 1831.31 484.25 1834.61V1860.70ZM487.05 1860.70V1855.58Q487.05 1852.28 490.35 1852.28H490.85Q494.15 1852.28 494.15 1855.58V1860.70ZM536.55 1860.70V1857.44Q536.55 1854.14 539.85 1854.14H540.35Q543.65 1854.14 543.65 1857.44V1860.70ZM556.35 1860.70V1860.70Q556.35 1859.50 557.55 1859.50H562.25Q563.45 1859.50 563.45 1860.70V1860.70ZM576.15 1860.70V1853.95Q576.15 1850.65 579.45 1850.65H579.95Q583.25 1850.65 583.25 1853.95V1860.70ZM586.05 1860.70V1854.64Q586.05 1851.34 589.35 1851.34H589.85Q593.15 1851.34 593.15 1854.64V1860.70ZM615.75 1860.70V1852.78Q615.75 1849.48 619.05 1849.48H619.55Q622.85 1849.48 622.85 1852.78V1860.70ZM625.65 1860.70V1860.70Q625.65 1859.26 627.09 1859.26H631.31Q632.75 1859.26 632.75 1860.70V1860.70ZM635.55 1860.70V1852.08Q635.55 1848.78 638.85 1848.78H639.35Q642.65 1848.78 642.65 1852.08V1860.70ZM655.35 1860.70V1840.67Q655.35 1837.37 658.65 1837.37H659.15Q662.45 1837.37 662.45 1840.67V1860.70ZM675.15 1860.70V1852.78Q675.15 1849.48 678.45 1849.48H678.95Q682.25 1849.48 682.25 1852.78V1860.70ZM685.05 1860.70V1816.91Q685.05 1813.61 688.35 1813.61H688.85Q692.15 1813.61 692.15 1816.91V1860.70ZM714.75 1860.70V1838.80Q714.75 1835.50 718.05 1835.50H718.55Q721.85 1835.50 721.85 1838.80V1860.70ZM724.65 1860.70V1846.49Q724.65 1843.19 727.95 1843.19H728.45Q731.75 1843.19 731.75 1846.49V1860.70ZM754.35 1860.70V1837.64Q754.35 1834.34 757.65 1834.34H758.15Q761.45 1834.34 761.45 1837.64V1860.70ZM764.25 1860.70V1818.54Q764.25 1815.24 767.55 1815.24H768.05Q771.35 1815.24 771.35 1818.54V1860.70ZM793.95 1860.70V1851.62Q793.95 1848.32 797.25 1848.32H797.75Q801.05 1848.32 801.05 1851.62V1860.70ZM813.75 1860.70V1843.00Q813.75 1839.70 817.05 1839.70H817.55Q820.85 1839.70 820.85 1843.00V1860.70ZM843.45 1860.70V1857.91Q843.45 1854.61 846.75 1854.61H847.25Q850.55 1854.61 850.55 1857.91V1860.70ZM853.35 1860.70V1854.64Q853.35 1851.34 856.65 1851.34H857.15Q860.45 1851.34 860.45 1854.64V1860.70ZM892.95 1860.70V1850.92Q892.95 1847.62 896.25 1847.62H896.75Q900.05 1847.62 900.05 1850.92V1860.70ZM902.85 1860.70V1854.64Q902.85 1851.34 906.15 1851.34H906.65Q909.95 1851.34 909.95 1854.64V1860.70ZM972.15 1860.70V1832.98Q972.15 1829.68 975.45 1829.68H975.95Q979.25 1829.68 979.25 1832.98V1860.70ZM991.95 1860.70V1849.75Q991.95 1846.45 995.25 1846.45H995.75Q999.05 1846.45 999.05 1849.75V1860.70ZM1021.65 1860.70V1828.79Q1021.65 1825.49 1024.95 1825.49H1025.45Q1028.75 1825.49 1028.75 1828.79V1860.70ZM1041.45 1860.70V1856.74Q1041.45 1853.44 1044.75 1853.44H1045.25Q1048.55 1853.44 1048.55 1856.74V1860.70ZM1051.35 1860.70V1860.70Q1051.35 1858.80 1053.25 1858.80H1056.55Q1058.45 1858.80 1058.45 1860.70V1860.70ZM1061.25 1860.70V1849.75Q1061.25 1846.45 1064.55 1846.45H1065.05Q1068.35 1846.45 1068.35 1849.75V1860.70ZM1071.15 1860.70V1841.13Q1071.15 1837.83 1074.45 1837.83H1074.95Q1078.25 1837.83 1078.25 1841.13V1860.70ZM1100.85 1860.70V1852.31Q1100.85 1849.01 1104.15 1849.01H1104.65Q1107.95 1849.01 1107.95 1852.31V1860.70ZM1110.75 1860.70V1849.52Q1110.75 1846.22 1114.05 1846.22H1114.55Q1117.85 1846.22 1117.85 1849.52V1860.70ZM1130.55 1860.70V1810.85Q1130.55 1807.55 1133.85 1807.55H1134.35Q1137.65 1807.55 1137.65 1810.85V1860.70ZM1150.35 1860.70V1856.27Q1150.35 1852.97 1153.65 1852.97H1154.15Q1157.45 1852.97 1157.45 1856.27V1860.70ZM1180.05 1860.70V1860.70Q1180.05 1859.26 1181.49 1859.26H1185.71Q1187.15 1859.26 1187.15 1860.70V1860.70ZM1209.75 1860.70V1826.69Q1209.75 1823.39 1213.05 1823.39H1213.55Q1216.85 1823.39 1216.85 1826.69V1860.70ZM1239.45 1860.70V1808.99Q1239.45 1805.69 1242.75 1805.69H1243.25Q1246.55 1805.69 1246.55 1808.99V1860.70ZM1259.25 1860.70V1844.16Q1259.25 1840.86 1262.55 1840.86H1263.05Q1266.35 1840.86 1266.35 1844.16V1860.70ZM1279.05 1860.70V1839.27Q1279.05 1835.97 1282.35 1835.97H1282.85Q1286.15 1835.97 1286.15 1839.27V1860.70ZM1298.85 1860.70V1860.70Q1298.85 1859.50 1300.05 1859.50H1304.75Q1305.95 1859.50 1305.95 1860.70V1860.70ZM1318.65 1860.70V1860.70Q1318.65 1859.50 1319.85 1859.50H1324.55Q1325.75 1859.50 1325.75 1860.70V1860.70ZM1338.45 1860.70V1858.60Q1338.45 1855.30 1341.75 1855.30H1342.25Q1345.55 1855.30 1345.55 1858.60V1860.70ZM1407.75 1860.70V1829.95Q1407.75 1826.65 1411.05 1826.65H1411.55Q1414.85 1826.65 1414.85 1829.95V1860.70ZM1427.55 1860.70V1846.49Q1427.55 1843.19 1430.85 1843.19H1431.35Q1434.65 1843.19 1434.65 1846.49V1860.70ZM1447.35 1860.70V1860.70Q1447.35 1859.50 1448.55 1859.50H1453.25Q1454.45 1859.50 1454.45 1860.70V1860.70ZM1457.25 1860.70V1858.60Q1457.25 1855.30 1460.55 1855.30H1461.05Q1464.35 1855.30 1464.35 1858.60V1860.70ZM1467.15 1860.70V1856.74Q1467.15 1853.44 1470.45 1853.44H1470.95Q1474.25 1853.44 1474.25 1856.74V1860.70ZM1477.05 1860.70V1858.60Q1477.05 1855.30 1480.35 1855.30H1480.85Q1484.15 1855.30 1484.15 1858.60V1860.70ZM1496.85 1860.70V1848.82Q1496.85 1845.52 1500.15 1845.52H1500.65Q1503.95 1845.52 1503.95 1848.82V1860.70ZM1506.75 1860.70V1860.70Q1506.75 1858.80 1508.65 1858.80H1511.95Q1513.85 1858.80 1513.85 1860.70V1860.70ZM1516.65 1860.70V1838.80Q1516.65 1835.50 1519.95 1835.50H1520.45Q1523.75 1835.50 1523.75 1838.80V1860.70ZM1546.35 1860.70V1860.70Q1546.35 1858.80 1548.25 1858.80H1551.55Q1553.45 1858.80 1553.45 1860.70V1860.70ZM1556.25 1860.70V1846.49Q1556.25 1843.19 1559.55 1843.19H1560.05Q1563.35 1843.19 1563.35 1846.49V1860.70ZM1605.75 1860.70V1860.70Q1605.75 1859.50 1606.95 1859.50H1611.65Q1612.85 1859.50 1612.85 1860.70V1860.70ZM1625.55 1860.70V1860.70Q1625.55 1859.26 1626.99 1859.26H1631.21Q1632.65 1859.26 1632.65 1860.70V1860.70ZM1635.45 1860.70V1860.70Q1635.45 1859.50 1636.65 1859.50H1641.35Q1642.55 1859.50 1642.55 1860.70V1860.70ZM1645.35 1860.70V1860.47Q1645.35 1857.17 1648.65 1857.17H1649.15Q1652.45 1857.17 1652.45 1860.47V1860.70ZM1655.25 1860.70V1860.70Q1655.25 1858.10 1657.85 1858.10H1659.75Q1662.35 1858.10 1662.35 1860.70V1860.70ZM1665.15 1860.70V1791.75Q1665.15 1788.45 1668.45 1788.45H1668.95Q1672.25 1788.45 1672.25 1791.75V1860.70ZM1684.95 1860.70V1855.81Q1684.95 1852.51 1688.25 1852.51H1688.75Q1692.05 1852.51 1692.05 1855.81V1860.70ZM1694.85 1860.70V1858.60Q1694.85 1855.30 1698.15 1855.30H1698.65Q1701.95 1855.30 1701.95 1858.60V1860.70ZM1714.65 1860.70V1859.07Q1714.65 1855.77 1717.95 1855.77H1718.45Q1721.75 1855.77 1721.75 1859.07V1860.70ZM1734.45 1860.70V1858.60Q1734.45 1855.30 1737.75 1855.30H1738.25Q1741.55 1855.30 1741.55 1858.60V1860.70ZM1744.35 1860.70V1850.45Q1744.35 1847.15 1747.65 1847.15H1748.15Q1751.45 1847.15 1751.45 1850.45V1860.70ZM1783.95 1860.70V1854.71Q1783.95 1851.41 1787.25 1851.41H1787.75Q1791.05 1851.41 1791.05 1854.71V1860.70ZM1793.85 1860.70V1860.70Q1793.85 1859.50 1795.05 1859.50H1799.75Q1800.95 1859.50 1800.95 1860.70V1860.70ZM1803.75 1860.70V1821.29Q1803.75 1817.99 1807.05 1817.99H1807.55Q1810.85 1817.99 1810.85 1821.29V1860.70ZM1823.55 1860.70V1852.81Q1823.55 1849.51 1826.85 1849.51H1827.35Q1830.65 1849.51 1830.65 1852.81V1860.70ZM1833.45 1860.70V1856.89Q1833.45 1853.59 1836.75 1853.59H1837.25Q1840.55 1853.59 1840.55 1856.89V1860.70ZM1843.35 1860.70V1815.31Q1843.35 1812.01 1846.65 1812.01H1847.15Q1850.45 1812.01 1850.45 1815.31V1860.70ZM1873.05 1860.70V1853.63Q1873.05 1850.33 1876.35 1850.33H1876.85Q1880.15 1850.33 1880.15 1853.63V1860.70ZM1882.95 1860.70V1858.79Q1882.95 1855.49 1886.25 1855.49H1886.75Q1890.05 1855.49 1890.05 1858.79V1860.70ZM1932.45 1860.70V1859.06Q1932.45 1855.76 1935.75 1855.76H1936.25Q1939.55 1855.76 1939.55 1859.06V1860.70ZM1952.25 1860.70V1818.57Q1952.25 1815.27 1955.55 1815.27H1956.05Q1959.35 1815.27 1959.35 1818.57V1860.70ZM1981.95 1860.70V1827.00Q1981.95 1823.70 1985.25 1823.70H1985.75Q1989.05 1823.70 1989.05 1827.00V1860.70ZM2021.55 1860.70V1837.32Q2021.55 1834.02 2024.85 1834.02H2025.35Q2028.65 1834.02 2028.65 1837.32V1860.70ZM2031.45 1860.70V1832.97Q2031.45 1829.67 2034.75 1829.67H2035.25Q2038.55 1829.67 2038.55 1832.97V1860.70ZM2041.35 1860.70V1833.79Q2041.35 1830.49 2044.65 1830.49H2045.15Q2048.45 1830.49 2048.45 1833.79V1860.70ZM2061.15 1860.70V1859.60Q2061.15 1856.30 2064.45 1856.30H2064.95Q2068.25 1856.30 2068.25 1859.60V1860.70ZM2080.95 1860.70V1859.33Q2080.95 1856.03 2084.25 1856.03H2084.75Q2088.05 1856.03 2088.05 1859.33V1860.70ZM2100.75 1860.70V1860.70Q2100.75 1859.50 2101.95 1859.50H2106.65Q2107.85 1859.50 2107.85 1860.70V1860.70ZM2110.65 1860.70V1756.89Q2110.65 1753.59 2113.95 1753.59H2114.45Q2117.75 1753.59 2117.75 1756.89V1860.70ZM2120.55 1860.70V1809.06Q2120.55 1805.76 2123.85 1805.76H2124.35Q2127.65 1805.76 2127.65 1809.06V1860.70ZM2160.15 1860.70V1860.70Q2160.15 1858.21 2162.64 1858.21H2164.76Q2167.25 1858.21 2167.25 1860.70V1860.70ZM2170.05 1860.70V1806.34Q2170.05 1803.04 2173.35 1803.04H2173.85Q2177.15 1803.04 2177.15 1806.34V1860.70ZM2189.85 1860.70V1852.00Q2189.85 1848.70 2193.15 1848.70H2193.65Q2196.95 1848.70 2196.95 1852.00V1860.70ZM2239.35 1860.70V1848.73Q2239.35 1845.43 2242.65 1845.43H2243.15Q2246.45 1845.43 2246.45 1848.73V1860.70ZM2259.15 1860.70V1848.73Q2259.15 1845.43 2262.45 1845.43H2262.95Q2266.25 1845.43 2266.25 1848.73V1860.70ZM2269.05 1860.70V1801.18Q2269.05 1797.88 2272.35 1797.88H2272.85Q2276.15 1797.88 2276.15 1801.18V1860.70ZM2288.85 1860.70V1858.79Q2288.85 1855.49 2292.15 1855.49H2292.65Q2295.95 1855.49 2295.95 1858.79V1860.70ZM2298.75 1860.70V1859.60Q2298.75 1856.30 2302.05 1856.30H2302.55Q2305.85 1856.30 2305.85 1859.60V1860.70ZM2308.65 1860.70V1842.76Q2308.65 1839.46 2311.95 1839.46H2312.45Q2315.75 1839.46 2315.75 1842.76V1860.70ZM2318.55 1860.70V1840.58Q2318.55 1837.28 2321.85 1837.28H2322.35Q2325.65 1837.28 2325.65 1840.58V1860.70ZM2328.45 1860.70V1837.59Q2328.45 1834.29 2331.75 1834.29H2332.25Q2335.55 1834.29 2335.55 1837.59V1860.70ZM2348.25 1860.70V1860.70Q2348.25 1859.50 2349.45 1859.50H2354.15Q2355.35 1859.50 2355.35 1860.70V1860.70ZM2397.75 1860.70V1830.26Q2397.75 1826.96 2401.05 1826.96H2401.55Q2404.85 1826.96 2404.85 1830.26V1860.70ZM2417.55 1860.70V1853.63Q2417.55 1850.33 2420.85 1850.33H2421.35Q2424.65 1850.33 2424.65 1853.63V1860.70Z"/>
<path fill="#f00000" d="M11.85 1860.70V1879.26Q11.85 1882.56 15.15 1882.56H15.65Q18.95 1882.56 18.95 1879.26V1860.70ZM21.75 1860.70V1861.32Q21.75 1864.62 25.05 1864.62H25.55Q28.85 1864.62 28.85 1861.32V1860.70ZM31.65 1860.70V1897.43Q31.65 1900.73 34.95 1900.73H35.45Q38.75 1900.73 38.75 1897.43V1860.70ZM41.55 1860.70V1865.51Q41.55 1868.81 44.85 1868.81H45.35Q48.65 1868.81 48.65 1865.51V1860.70ZM61.35 1860.70V1886.94Q61.35 1890.24 64.65 1890.24H65.15Q68.45 1890.24 68.45 1886.94V1860.70ZM71.25 1860.70V1872.97Q71.25 1876.27 74.55 1876.27H75.05Q78.35 1876.27 78.35 1872.97V1860.70ZM81.15 1860.70V1865.98Q81.15 1869.28 84.45 1869.28H84.95Q88.25 1869.28 88.25 1865.98V1860.70ZM91.05 1860.70V1868.31Q91.05 1871.61 94.35 1871.61H94.85Q98.15 1871.61 98.15 1868.31V1860.70ZM100.95 1860.70V1860.70Q100.95 1862.99 103.24 1862.99H105.76Q108.05 1862.99 108.05 1860.70V1860.70ZM120.75 1860.70V1891.60Q120.75 1894.90 124.05 1894.90H124.55Q127.85 1894.90 127.85 1891.60V1860.70ZM130.65 1860.70V1862.49Q130.65 1865.79 133.95 1865.79H134.45Q137.75 1865.79 137.75 1862.49V1860.70ZM140.55 1860.70V1861.32Q140.55 1864.62 143.85 1864.62H144.35Q147.65 1864.62 147.65 1861.32V1860.70ZM170.25 1860.70V1882.98Q170.25 1886.28 173.55 1886.28H174.05Q177.35 1886.28 177.35 1882.98V1860.70ZM180.15 1860.70V1860.70Q180.15 1861.90 181.35 1861.90H186.05Q187.25 1861.90 187.25 1860.70V1860.70ZM219.75 1860.70V1860.70Q219.75 1861.90 220.95 1861.90H225.65Q226.85 1861.90 226.85 1860.70V1860.70ZM239.55 1860.70V1883.92Q239.55 1887.22 242.85 1887.22H243.35Q246.65 1887.22 246.65 1883.92V1860.70ZM259.35 1860.70V1883.45Q259.35 1886.75 262.65 1886.75H263.15Q266.45 1886.75 266.45 1883.45V1860.70ZM269.25 1860.70V1863.18Q269.25 1866.48 272.55 1866.48H273.05Q276.35 1866.48 276.35 1863.18V1860.70ZM289.05 1860.70V1886.94Q289.05 1890.24 292.35 1890.24H292.85Q296.15 1890.24 296.15 1886.94V1860.70ZM298.95 1860.70V1899.06Q298.95 1902.36 302.25 1902.36H302.75Q306.05 1902.36 306.05 1899.06V1860.70ZM308.85 1860.70V1894.40Q308.85 1897.70 312.15 1897.70H312.65Q315.95 1897.70 315.95 1894.40V1860.70ZM328.65 1860.70V1862.02Q328.65 1865.32 331.95 1865.32H332.45Q335.75 1865.32 335.75 1862.02V1860.70ZM338.55 1860.70V1861.32Q338.55 1864.62 341.85 1864.62H342.35Q345.65 1864.62 345.65 1861.32V1860.70ZM348.45 1860.70V1862.95Q348.45 1866.25 351.75 1866.25H352.25Q355.55 1866.25 355.55 1862.95V1860.70ZM358.35 1860.70V1870.17Q358.35 1873.47 361.65 1873.47H362.15Q365.45 1873.47 365.45 1870.17V1860.70ZM368.25 1860.70V1860.70Q368.25 1861.90 369.45 1861.90H374.15Q375.35 1861.90 375.35 1860.70V1860.70ZM378.15 1860.70V1871.80Q378.15 1875.10 381.45 1875.10H381.95Q385.25 1875.10 385.25 1871.80V1860.70ZM397.95 1860.70V1882.98Q397.95 1886.28 401.25 1886.28H401.75Q405.05 1886.28 405.05 1882.98V1860.70ZM407.85 1860.70V1861.32Q407.85 1864.62 411.15 1864.62H411.65Q414.95 1864.62 414.95 1861.32V1860.70ZM427.65 1860.70V1871.80Q427.65 1875.10 430.95 1875.10H431.45Q434.75 1875.10 434.75 1871.80V1860.70ZM437.55 1860.70V1868.31Q437.55 1871.61 440.85 1871.61H441.35Q444.65 1871.61 444.65 1868.31V1860.70ZM447.45 1860.70V1865.98Q447.45 1869.28 450.75 1869.28H451.25Q454.55 1869.28 454.55 1865.98V1860.70ZM457.35 1860.70V1876.93Q457.35 1880.23 460.65 1880.23H461.15Q464.45 1880.23 464.45 1876.93V1860.70ZM496.95 1860.70V1869.01Q496.95 1872.31 500.25 1872.31H500.75Q504.05 1872.31 504.05 1869.01V1860.70ZM506.85 1860.70V1874.13Q506.85 1877.43 510.15 1877.43H510.65Q513.95 1877.43 513.95 1874.13V1860.70ZM516.75 1860.70V1860.70Q516.75 1862.29 518.34 1862.29H522.26Q523.85 1862.29 523.85 1860.70V1860.70ZM526.65 1860.70V1885.08Q526.65 1888.38 529.95 1888.38H530.45Q533.75 1888.38 533.75 1885.08V1860.70ZM546.45 1860.70V1864.35Q546.45 1867.65 549.75 1867.65H550.25Q553.55 1867.65 553.55 1864.35V1860.70ZM566.25 1860.70V1883.92Q566.25 1887.22 569.55 1887.22H570.05Q573.35 1887.22 573.35 1883.92V1860.70ZM595.95 1860.70V1860.70Q595.95 1862.29 597.54 1862.29H601.46Q603.05 1862.29 603.05 1860.70V1860.70ZM605.85 1860.70V1876.46Q605.85 1879.76 609.15 1879.76H609.65Q612.95 1879.76 612.95 1876.46V1860.70ZM645.45 1860.70V1878.09Q645.45 1881.39 648.75 1881.39H649.25Q652.55 1881.39 652.55 1878.09V1860.70ZM665.25 1860.70V1869.01Q665.25 1872.31 668.55 1872.31H669.05Q672.35 1872.31 672.35 1869.01V1860.70ZM694.95 1860.70V1872.97Q694.95 1876.27 698.25 1876.27H698.75Q702.05 1876.27 702.05 1872.97V1860.70ZM704.85 1860.70V1860.70Q704.85 1863.92 708.07 1863.92H708.73Q711.95 1863.92 711.95 1860.70V1860.70ZM734.55 1860.70V1871.34Q734.55 1874.64 737.85 1874.64H738.35Q741.65 1874.64 741.65 1871.34V1860.70ZM744.45 1860.70V1862.02Q744.45 1865.32 747.75 1865.32H748.25Q751.55 1865.32 751.55 1862.02V1860.70ZM774.15 1860.70V1889.97Q774.15 1893.27 777.45 1893.27H777.95Q781.25 1893.27 781.25 1889.97V1860.70ZM784.05 1860.70V1893.23Q784.05 1896.53 787.35 1896.53H787.85Q791.15 1896.53 791.15 1893.23V1860.70ZM803.85 1860.70V1868.31Q803.85 1871.61 807.15 1871.61H807.65Q810.95 1871.61 810.95 1868.31V1860.70ZM823.65 1860.70V1860.70Q823.65 1863.46 826.41 1863.46H827.99Q830.75 1863.46 830.75 1860.70V1860.70ZM833.55 1860.70V1860.70Q833.55 1863.46 836.31 1863.46H837.89Q840.65 1863.46 840.65 1860.70V1860.70ZM863.25 1860.70V1874.13Q863.25 1877.43 866.55 1877.43H867.05Q870.35 1877.43 870.35 1874.13V1860.70ZM873.15 1860.70V1860.70Q873.15 1862.76 875.21 1862.76H878.19Q880.25 1862.76 880.25 1860.70V1860.70ZM883.05 1860.70V1941.68Q883.05 1944.98 886.35 1944.98H886.85Q890.15 1944.98 890.15 1941.68V1860.70ZM912.75 1860.70V1907.91Q912.75 1911.21 916.05 1911.21H916.55Q919.85 1911.21 919.85 1907.91V1860.70ZM922.65 1860.70V1903.25Q922.65 1906.55 925.95 1906.55H926.45Q929.75 1906.55 929.75 1903.25V1860.70ZM932.55 1860.70V1861.32Q932.55 1864.62 935.85 1864.62H936.35Q939.65 1864.62 939.65 1861.32V1860.70ZM942.45 1860.70V1872.27Q942.45 1875.57 945.75 1875.57H946.25Q949.55 1875.57 949.55 1872.27V1860.70ZM952.35 1860.70V1867.84Q952.35 1871.14 955.65 1871.14H956.15Q959.45 1871.14 959.45 1867.84V1860.70ZM962.25 1860.70V1864.35Q962.25 1867.65 965.55 1867.65H966.05Q969.35 1867.65 969.35 1864.35V1860.70ZM982.05 1860.70V1862.95Q982.05 1866.25 985.35 1866.25H985.85Q989.15 1866.25 989.15 1862.95V1860.70ZM1001.85 1860.70V1862.49Q1001.85 1865.79 1005.15 1865.79H1005.65Q1008.95 1865.79 1008.95 1862.49V1860.70ZM1011.75 1860.70V1883.45Q1011.75 1886.75 1015.05 1886.75H1015.55Q1018.85 1886.75 1018.85 1883.45V1860.70ZM1031.55 1860.70V1860.70Q1031.55 1861.90 1032.75 1861.90H1037.45Q1038.65 1861.90 1038.65 1860.70V1860.70ZM1081.05 1860.70V1890.90Q1081.05 1894.20 1084.35 1894.20H1084.85Q1088.15 1894.20 1088.15 1890.90V1860.70ZM1090.95 1860.70V1867.14Q1090.95 1870.44 1094.25 1870.44H1094.75Q1098.05 1870.44 1098.05 1867.14V1860.70ZM1120.65 1860.70V1874.13Q1120.65 1877.43 1123.95 1877.43H1124.45Q1127.75 1877.43 1127.75 1874.13V1860.70ZM1140.45 1860.70V1872.27Q1140.45 1875.57 1143.75 1875.57H1144.25Q1147.55 1875.57 1147.55 1872.27V1860.70ZM1160.25 1860.70V1860.70Q1160.25 1863.46 1163.01 1863.46H1164.59Q1167.35 1863.46 1167.35 1860.70V1860.70ZM1170.15 1860.70V1882.29Q1170.15 1885.59 1173.45 1885.59H1173.95Q1177.25 1885.59 1177.25 1882.29V1860.70ZM1189.95 1860.70V1865.28Q1189.95 1868.58 1193.25 1868.58H1193.75Q1197.05 1868.58 1197.05 1865.28V1860.70ZM1199.85 1860.70V1863.18Q1199.85 1866.48 1203.15 1866.48H1203.65Q1206.95 1866.48 1206.95 1863.18V1860.70ZM1219.65 1860.70V1871.34Q1219.65 1874.64 1222.95 1874.64H1223.45Q1226.75 1874.64 1226.75 1871.34V1860.70ZM1229.55 1860.70V1889.97Q1229.55 1893.27 1232.85 1893.27H1233.35Q1236.65 1893.27 1236.65 1889.97V1860.70ZM1249.35 1860.70V1864.12Q1249.35 1867.42 1252.65 1867.42H1253.15Q1256.45 1867.42 1256.45 1864.12V1860.70ZM1269.15 1860.70V1893.93Q1269.15 1897.23 1272.45 1897.23H1272.95Q1276.25 1897.23 1276.25 1893.93V1860.70ZM1288.95 1860.70V1873.67Q1288.95 1876.97 1292.25 1876.97H1292.75Q1296.05 1876.97 1296.05 1873.67V1860.70ZM1308.75 1860.70V1872.97Q1308.75 1876.27 1312.05 1876.27H1312.55Q1315.85 1876.27 1315.85 1872.97V1860.70ZM1328.55 1860.70V1860.70Q1328.55 1863.92 1331.77 1863.92H1332.43Q1335.65 1863.92 1335.65 1860.70V1860.70ZM1348.35 1860.70V1861.79Q1348.35 1865.09 1351.65 1865.09H1352.15Q1355.45 1865.09 1355.45 1861.79V1860.70ZM1358.25 1860.70V1862.95Q1358.25 1866.25 1361.55 1866.25H1362.05Q1365.35 1866.25 1365.35 1862.95V1860.70ZM1368.15 1860.70V1860.70Q1368.15 1861.90 1369.35 1861.90H1374.05Q1375.25 1861.90 1375.25 1860.70V1860.70ZM1378.05 1860.70V1860.70Q1378.05 1862.06 1379.41 1862.06H1383.79Q1385.15 1862.06 1385.15 1860.70V1860.70ZM1387.95 1860.70V1862.49Q1387.95 1865.79 1391.25 1865.79H1391.75Q1395.05 1865.79 1395.05 1862.49V1860.70ZM1397.85 1860.70V1860.70Q1397.85 1862.06 1399.21 1862.06H1403.59Q1404.95 1862.06 1404.95 1860.70V1860.70ZM1417.65 1860.70V1873.67Q1417.65 1876.97 1420.95 1876.97H1421.45Q1424.75 1876.97 1424.75 1873.67V1860.70ZM1437.45 1860.70V1885.78Q1437.45 1889.08 1440.75 1889.08H1441.25Q1444.55 1889.08 1444.55 1885.78V1860.70ZM1486.95 1860.70V1868.31Q1486.95 1871.61 1490.25 1871.61H1490.75Q1494.05 1871.61 1494.05 1868.31V1860.70ZM1526.55 1860.70V1869.94Q1526.55 1873.24 1529.85 1873.24H1530.35Q1533.65 1873.24 1533.65 1869.94V1860.70ZM1536.45 1860.70V1860.70Q1536.45 1862.29 1538.04 1862.29H1541.96Q1543.55 1862.29 1543.55 1860.70V1860.70ZM1566.15 1860.70V1865.98Q1566.15 1869.28 1569.45 1869.28H1569.95Q1573.25 1869.28 1573.25 1865.98V1860.70ZM1576.05 1860.70V1864.82Q1576.05 1868.12 1579.35 1868.12H1579.85Q1583.15 1868.12 1583.15 1864.82V1860.70ZM1585.95 1860.70V1860.70Q1585.95 1861.90 1587.15 1861.90H1591.85Q1593.05 1861.90 1593.05 1860.70V1860.70ZM1595.85 1860.70V1865.98Q1595.85 1869.28 1599.15 1869.28H1599.65Q1602.95 1869.28 1602.95 1865.98V1860.70ZM1615.65 1860.70V1860.70Q1615.65 1862.29 1617.24 1862.29H1621.16Q1622.75 1862.29 1622.75 1860.70V1860.70ZM1675.05 1860.70V1873.67Q1675.05 1876.97 1678.35 1876.97H1678.85Q1682.15 1876.97 1682.15 1873.67V1860.70ZM1704.75 1860.70V1897.89Q1704.75 1901.19 1708.05 1901.19H1708.55Q1711.85 1901.19 1711.85 1897.89V1860.70ZM1724.55 1860.70V1882.98Q1724.55 1886.28 1727.85 1886.28H1728.35Q1731.65 1886.28 1731.65 1882.98V1860.70ZM1754.25 1860.70V1896.96Q1754.25 1900.26 1757.55 1900.26H1758.05Q1761.35 1900.26 1761.35 1896.96V1860.70ZM1764.15 1860.70V1862.49Q1764.15 1865.79 1767.45 1865.79H1767.95Q1771.25 1865.79 1771.25 1862.49V1860.70ZM1774.05 1860.70V1861.16Q1774.05 1864.46 1777.35 1864.46H1777.85Q1781.15 1864.46 1781.15 1861.16V1860.70ZM1813.65 1860.70V1869.85Q1813.65 1873.15 1816.95 1873.15H1817.45Q1820.75 1873.15 1820.75 1869.85V1860.70ZM1853.25 1860.70V1901.10Q1853.25 1904.40 1856.55 1904.40H1857.05Q1860.35 1904.40 1860.35 1901.10V1860.70ZM1863.15 1860.70V1871.75Q1863.15 1875.05 1866.45 1875.05H1866.95Q1870.25 1875.05 1870.25 1871.75V1860.70ZM1892.85 1860.70V1874.74Q1892.85 1878.04 1896.15 1878.04H1896.65Q1899.95 1878.04 1899.95 1874.74V1860.70ZM1902.75 1860.70V1891.59Q1902.75 1894.89 1906.05 1894.89H1906.55Q1909.85 1894.89 1909.85 1891.59V1860.70ZM1912.65 1860.70V1900.56Q1912.65 1903.86 1915.95 1903.86H1916.45Q1919.75 1903.86 1919.75 1900.56V1860.70ZM1922.55 1860.70V1860.70Q1922.55 1862.28 1924.13 1862.28H1928.07Q1929.65 1862.28 1929.65 1860.70V1860.70ZM1942.35 1860.70V1861.70Q1942.35 1865.00 1945.65 1865.00H1946.15Q1949.45 1865.00 1949.45 1861.70V1860.70ZM1962.15 1860.70V1860.70Q1962.15 1862.83 1964.28 1862.83H1967.12Q1969.25 1862.83 1969.25 1860.70V1860.70ZM1972.05 1860.70V1860.70Q1972.05 1861.90 1973.25 1861.90H1977.95Q1979.15 1861.90 1979.15 1860.70V1860.70ZM1991.85 1860.70V1867.13Q1991.85 1870.43 1995.15 1870.43H1995.65Q1998.95 1870.43 1998.95 1867.13V1860.70ZM2001.75 1860.70V1860.70Q2001.75 1861.90 2002.95 1861.90H2007.65Q2008.85 1861.90 2008.85 1860.70V1860.70ZM2011.65 1860.70V1887.52Q2011.65 1890.82 2014.95 1890.82H2015.45Q2018.75 1890.82 2018.75 1887.52V1860.70ZM2051.25 1860.70V1889.69Q2051.25 1892.99 2054.55 1892.99H2055.05Q2058.35 1892.99 2058.35 1889.69V1860.70ZM2071.05 1860.70V1873.93Q2071.05 1877.23 2074.35 1877.23H2074.85Q2078.15 1877.23 2078.15 1873.93V1860.70ZM2090.85 1860.70V1893.77Q2090.85 1897.07 2094.15 1897.07H2094.65Q2097.95 1897.07 2097.95 1893.77V1860.70ZM2130.45 1860.70V1872.57Q2130.45 1875.87 2133.75 1875.87H2134.25Q2137.55 1875.87 2137.55 1872.57V1860.70ZM2140.35 1860.70V1862.24Q2140.35 1865.54 2143.65 1865.54H2144.15Q2147.45 1865.54 2147.45 1862.24V1860.70ZM2150.25 1860.70V1866.32Q2150.25 1869.62 2153.55 1869.62H2154.05Q2157.35 1869.62 2157.35 1866.32V1860.70ZM2179.95 1860.70V1864.96Q2179.95 1868.26 2183.25 1868.26H2183.75Q2187.05 1868.26 2187.05 1864.96V1860.70ZM2199.75 1860.70V1865.78Q2199.75 1869.08 2203.05 1869.08H2203.55Q2206.85 1869.08 2206.85 1865.78V1860.70ZM2209.65 1860.70V1882.90Q2209.65 1886.20 2212.95 1886.20H2213.45Q2216.75 1886.20 2216.75 1882.90V1860.70ZM2219.55 1860.70V1871.21Q2219.55 1874.51 2222.85 1874.51H2223.35Q2226.65 1874.51 2226.65 1871.21V1860.70ZM2229.45 1860.70V1872.57Q2229.45 1875.87 2232.75 1875.87H2233.25Q2236.55 1875.87 2236.55 1872.57V1860.70ZM2249.25 1860.70V1866.05Q2249.25 1869.35 2252.55 1869.35H2253.05Q2256.35 1869.35 2256.35 1866.05V1860.70ZM2278.95 1860.70V1884.80Q2278.95 1888.10 2282.25 1888.10H2282.75Q2286.05 1888.10 2286.05 1884.80V1860.70ZM2338.35 1860.70V1867.13Q2338.35 1870.43 2341.65 1870.43H2342.15Q2345.45 1870.43 2345.45 1867.13V1860.70ZM2358.15 1860.70V1878.00Q2358.15 1881.30 2361.45 1881.30H2361.95Q2365.25 1881.30 2365.25 1878.00V1860.70ZM2368.05 1860.70V1860.70Q2368.05 1861.90 2369.25 1861.90H2373.95Q2375.15 1861.90 2375.15 1860.70V1860.70ZM2377.95 1860.70V1867.13Q2377.95 1870.43 2381.25 1870.43H2381.75Q2385.05 1870.43 2385.05 1867.13V1860.70ZM2387.85 1860.70V1860.70Q2387.85 1861.90 2389.05 1861.90H2393.75Q2394.95 1861.90 2394.95 1860.70V1860.70ZM2407.65 1860.70V1876.65Q2407.65 1879.95 2410.95 1879.95H2411.45Q2414.75 1879.95 2414.75 1876.65V1860.70Z"/>
<line x1="2427" y1="1850.3" x2="3717" y2="1850.3" stroke="#2fa52f" stroke-width="1.6" stroke-dasharray="2 2"/>
<rect x="0" y="1943.5" width="3838" height="34.5" fill="#000"/>
<rect x="0" y="1943.5" width="3717" height="2.2" fill="#2a2a2a"/>
<rect x="8.8" y="1946" width="63.4" height="30.5" rx="3" fill="#0c0c0c" stroke="#2c2c2c" stroke-width="1.2"/>
<text x="14.1" y="1968.3" font-size="22.5" fill="#e389e3" textLength="51.8" lengthAdjust="spacingAndGlyphs">23.05</text>
<rect x="57.8" y="1946" width="63.4" height="30.5" rx="3" fill="#0c0c0c" stroke="#2c2c2c" stroke-width="1.2"/>
<text x="63.1" y="1968.3" font-size="22.5" fill="#e389e3" textLength="51.8" lengthAdjust="spacingAndGlyphs">30.05</text>
<rect x="107.8" y="1946" width="63.4" height="30.5" rx="3" fill="#0c0c0c" stroke="#2c2c2c" stroke-width="1.2"/>
<text x="113.1" y="1968.3" font-size="22.5" fill="#e389e3" textLength="51.8" lengthAdjust="spacingAndGlyphs">06.06</text>
<rect x="171.8" y="1945.6" width="26.6" height="31.3" fill="#000"/>
<text x="172.2" y="1968.3" font-size="22.5" fill="#fff" textLength="23.4" lengthAdjust="spacingAndGlyphs">06</text>
<rect x="196.8" y="1946" width="63.4" height="30.5" rx="3" fill="#0c0c0c" stroke="#2c2c2c" stroke-width="1.2"/>
<text x="202.1" y="1968.3" font-size="22.5" fill="#e389e3" textLength="51.8" lengthAdjust="spacingAndGlyphs">20.06</text>
<rect x="245.8" y="1946" width="63.4" height="30.5" rx="3" fill="#0c0c0c" stroke="#2c2c2c" stroke-width="1.2"/>
<text x="251.1" y="1968.3" font-size="22.5" fill="#e389e3" textLength="51.8" lengthAdjust="spacingAndGlyphs">27.06</text>
<rect x="295.8" y="1946" width="63.4" height="30.5" rx="3" fill="#0c0c0c" stroke="#2c2c2c" stroke-width="1.2"/>
<text x="301.1" y="1968.3" font-size="22.5" fill="#e389e3" textLength="51.8" lengthAdjust="spacingAndGlyphs">04.07</text>
<rect x="349.0" y="1946" width="55.0" height="30.5" rx="3" fill="#0c0c0c" stroke="#2c2c2c" stroke-width="1.2"/>
<text x="354.3" y="1968.3" font-size="22.5" fill="#e389e3" textLength="43.4" lengthAdjust="spacingAndGlyphs">11.07</text>
<rect x="396.9" y="1946" width="59.2" height="30.5" rx="3" fill="#0c0c0c" stroke="#2c2c2c" stroke-width="1.2"/>
<text x="402.2" y="1968.3" font-size="22.5" fill="#e389e3" textLength="47.6" lengthAdjust="spacingAndGlyphs">18.07</text>
<rect x="443.8" y="1946" width="63.4" height="30.5" rx="3" fill="#0c0c0c" stroke="#2c2c2c" stroke-width="1.2"/>
<text x="449.1" y="1968.3" font-size="22.5" fill="#e389e3" textLength="51.8" lengthAdjust="spacingAndGlyphs">25.07</text>
<rect x="495.9" y="1946" width="59.2" height="30.5" rx="3" fill="#0c0c0c" stroke="#2c2c2c" stroke-width="1.2"/>
<text x="501.2" y="1968.3" font-size="22.5" fill="#e389e3" textLength="47.6" lengthAdjust="spacingAndGlyphs">01.08</text>
<rect x="542.8" y="1946" width="63.4" height="30.5" rx="3" fill="#0c0c0c" stroke="#2c2c2c" stroke-width="1.2"/>
<text x="548.1" y="1968.3" font-size="22.5" fill="#e389e3" textLength="51.8" lengthAdjust="spacingAndGlyphs">08.08</text>
<rect x="594.9" y="1946" width="59.2" height="30.5" rx="3" fill="#0c0c0c" stroke="#2c2c2c" stroke-width="1.2"/>
<text x="600.2" y="1968.3" font-size="22.5" fill="#e389e3" textLength="47.6" lengthAdjust="spacingAndGlyphs">15.08</text>
<rect x="641.8" y="1946" width="63.4" height="30.5" rx="3" fill="#0c0c0c" stroke="#2c2c2c" stroke-width="1.2"/>
<text x="647.1" y="1968.3" font-size="22.5" fill="#e389e3" textLength="51.8" lengthAdjust="spacingAndGlyphs">22.08</text>
<rect x="691.8" y="1946" width="63.4" height="30.5" rx="3" fill="#0c0c0c" stroke="#2c2c2c" stroke-width="1.2"/>
<text x="697.1" y="1968.3" font-size="22.5" fill="#e389e3" textLength="51.8" lengthAdjust="spacingAndGlyphs">29.08</text>
<rect x="740.8" y="1946" width="63.4" height="30.5" rx="3" fill="#0c0c0c" stroke="#2c2c2c" stroke-width="1.2"/>
<text x="746.1" y="1968.3" font-size="22.5" fill="#e389e3" textLength="51.8" lengthAdjust="spacingAndGlyphs">05.09</text>
<rect x="792.9" y="1946" width="59.2" height="30.5" rx="3" fill="#0c0c0c" stroke="#2c2c2c" stroke-width="1.2"/>
<text x="798.2" y="1968.3" font-size="22.5" fill="#e389e3" textLength="47.6" lengthAdjust="spacingAndGlyphs">12.09</text>
<rect x="841.9" y="1946" width="59.2" height="30.5" rx="3" fill="#0c0c0c" stroke="#2c2c2c" stroke-width="1.2"/>
<text x="847.2" y="1968.3" font-size="22.5" fill="#e389e3" textLength="47.6" lengthAdjust="spacingAndGlyphs">19.09</text>
<rect x="889.8" y="1946" width="63.4" height="30.5" rx="3" fill="#0c0c0c" stroke="#2c2c2c" stroke-width="1.2"/>
<text x="895.1" y="1968.3" font-size="22.5" fill="#e389e3" textLength="51.8" lengthAdjust="spacingAndGlyphs">26.09</text>
<rect x="940.9" y="1946" width="59.2" height="30.5" rx="3" fill="#0c0c0c" stroke="#2c2c2c" stroke-width="1.2"/>
<text x="946.2" y="1968.3" font-size="22.5" fill="#e389e3" textLength="47.6" lengthAdjust="spacingAndGlyphs">03.10</text>
<rect x="993.0" y="1946" width="55.0" height="30.5" rx="3" fill="#0c0c0c" stroke="#2c2c2c" stroke-width="1.2"/>
<text x="998.3" y="1968.3" font-size="22.5" fill="#e389e3" textLength="43.4" lengthAdjust="spacingAndGlyphs">10.10</text>
<rect x="1042.0" y="1946" width="55.0" height="30.5" rx="3" fill="#0c0c0c" stroke="#2c2c2c" stroke-width="1.2"/>
<text x="1047.3" y="1968.3" font-size="22.5" fill="#e389e3" textLength="43.4" lengthAdjust="spacingAndGlyphs">17.10</text>
<rect x="1089.9" y="1946" width="59.2" height="30.5" rx="3" fill="#0c0c0c" stroke="#2c2c2c" stroke-width="1.2"/>
<text x="1095.2" y="1968.3" font-size="22.5" fill="#e389e3" textLength="47.6" lengthAdjust="spacingAndGlyphs">24.10</text>
<rect x="1141.0" y="1946" width="55.0" height="30.5" rx="3" fill="#0c0c0c" stroke="#2c2c2c" stroke-width="1.2"/>
<text x="1146.3" y="1968.3" font-size="22.5" fill="#e389e3" textLength="43.4" lengthAdjust="spacingAndGlyphs">31.10</text>
<rect x="1181.0" y="1946" width="55.0" height="30.5" rx="3" fill="#0c0c0c" stroke="#2c2c2c" stroke-width="1.2"/>
<text x="1186.3" y="1968.3" font-size="22.5" fill="#e389e3" textLength="43.4" lengthAdjust="spacingAndGlyphs">07.11</text>
<rect x="1233.1" y="1946" width="50.8" height="30.5" rx="3" fill="#0c0c0c" stroke="#2c2c2c" stroke-width="1.2"/>
<text x="1238.4" y="1968.3" font-size="22.5" fill="#e389e3" textLength="39.2" lengthAdjust="spacingAndGlyphs">14.11</text>
<rect x="1282.1" y="1946" width="50.8" height="30.5" rx="3" fill="#0c0c0c" stroke="#2c2c2c" stroke-width="1.2"/>
<text x="1287.4" y="1968.3" font-size="22.5" fill="#e389e3" textLength="39.2" lengthAdjust="spacingAndGlyphs">21.11</text>
<rect x="1330.0" y="1946" width="55.0" height="30.5" rx="3" fill="#0c0c0c" stroke="#2c2c2c" stroke-width="1.2"/>
<text x="1335.3" y="1968.3" font-size="22.5" fill="#e389e3" textLength="43.4" lengthAdjust="spacingAndGlyphs">28.11</text>
<rect x="1376.9" y="1946" width="59.2" height="30.5" rx="3" fill="#0c0c0c" stroke="#2c2c2c" stroke-width="1.2"/>
<text x="1382.2" y="1968.3" font-size="22.5" fill="#e389e3" textLength="47.6" lengthAdjust="spacingAndGlyphs">05.12</text>
<rect x="1429.0" y="1946" width="55.0" height="30.5" rx="3" fill="#0c0c0c" stroke="#2c2c2c" stroke-width="1.2"/>
<text x="1434.3" y="1968.3" font-size="22.5" fill="#e389e3" textLength="43.4" lengthAdjust="spacingAndGlyphs">12.12</text>
<rect x="1478.0" y="1946" width="55.0" height="30.5" rx="3" fill="#0c0c0c" stroke="#2c2c2c" stroke-width="1.2"/>
<text x="1483.3" y="1968.3" font-size="22.5" fill="#e389e3" textLength="43.4" lengthAdjust="spacingAndGlyphs">19.12</text>
<rect x="1525.9" y="1946" width="59.2" height="30.5" rx="3" fill="#0c0c0c" stroke="#2c2c2c" stroke-width="1.2"/>
<text x="1531.2" y="1968.3" font-size="22.5" fill="#e389e3" textLength="47.6" lengthAdjust="spacingAndGlyphs">26.12</text>
<rect x="1614.9" y="1946" width="59.2" height="30.5" rx="3" fill="#0c0c0c" stroke="#2c2c2c" stroke-width="1.2"/>
<text x="1620.2" y="1968.3" font-size="22.5" fill="#e389e3" textLength="47.6" lengthAdjust="spacingAndGlyphs">09.01</text>
<rect x="1666.0" y="1946" width="55.0" height="30.5" rx="3" fill="#0c0c0c" stroke="#2c2c2c" stroke-width="1.2"/>
<text x="1671.3" y="1968.3" font-size="22.5" fill="#e389e3" textLength="43.4" lengthAdjust="spacingAndGlyphs">16.01</text>
<rect x="1713.9" y="1946" width="59.2" height="30.5" rx="3" fill="#0c0c0c" stroke="#2c2c2c" stroke-width="1.2"/>
<text x="1719.2" y="1968.3" font-size="22.5" fill="#e389e3" textLength="47.6" lengthAdjust="spacingAndGlyphs">23.01</text>
<rect x="1762.9" y="1946" width="59.2" height="30.5" rx="3" fill="#0c0c0c" stroke="#2c2c2c" stroke-width="1.2"/>
<text x="1768.2" y="1968.3" font-size="22.5" fill="#e389e3" textLength="47.6" lengthAdjust="spacingAndGlyphs">30.01</text>
<rect x="1810.8" y="1946" width="63.4" height="30.5" rx="3" fill="#0c0c0c" stroke="#2c2c2c" stroke-width="1.2"/>
<text x="1816.1" y="1968.3" font-size="22.5" fill="#e389e3" textLength="51.8" lengthAdjust="spacingAndGlyphs">06.02</text>
<rect x="1861.9" y="1946" width="59.2" height="30.5" rx="3" fill="#0c0c0c" stroke="#2c2c2c" stroke-width="1.2"/>
<text x="1867.2" y="1968.3" font-size="22.5" fill="#e389e3" textLength="47.6" lengthAdjust="spacingAndGlyphs">13.02</text>
<rect x="1909.8" y="1946" width="63.4" height="30.5" rx="3" fill="#0c0c0c" stroke="#2c2c2c" stroke-width="1.2"/>
<text x="1915.1" y="1968.3" font-size="22.5" fill="#e389e3" textLength="51.8" lengthAdjust="spacingAndGlyphs">20.02</text>
<rect x="1948.8" y="1946" width="63.4" height="30.5" rx="3" fill="#0c0c0c" stroke="#2c2c2c" stroke-width="1.2"/>
<text x="1954.1" y="1968.3" font-size="22.5" fill="#e389e3" textLength="51.8" lengthAdjust="spacingAndGlyphs">27.02</text>
<rect x="1998.8" y="1946" width="63.4" height="30.5" rx="3" fill="#0c0c0c" stroke="#2c2c2c" stroke-width="1.2"/>
<text x="2004.1" y="1968.3" font-size="22.5" fill="#e389e3" textLength="51.8" lengthAdjust="spacingAndGlyphs">06.03</text>
<rect x="2039.9" y="1946" width="59.2" height="30.5" rx="3" fill="#0c0c0c" stroke="#2c2c2c" stroke-width="1.2"/>
<text x="2045.2" y="1968.3" font-size="22.5" fill="#e389e3" textLength="47.6" lengthAdjust="spacingAndGlyphs">13.03</text>
<rect x="2087.8" y="1946" width="63.4" height="30.5" rx="3" fill="#0c0c0c" stroke="#2c2c2c" stroke-width="1.2"/>
<text x="2093.1" y="1968.3" font-size="22.5" fill="#e389e3" textLength="51.8" lengthAdjust="spacingAndGlyphs">20.03</text>
<rect x="2136.8" y="1946" width="63.4" height="30.5" rx="3" fill="#0c0c0c" stroke="#2c2c2c" stroke-width="1.2"/>
<text x="2142.1" y="1968.3" font-size="22.5" fill="#e389e3" textLength="51.8" lengthAdjust="spacingAndGlyphs">27.03</text>
<rect x="2186.8" y="1946" width="63.4" height="30.5" rx="3" fill="#0c0c0c" stroke="#2c2c2c" stroke-width="1.2"/>
<text x="2192.1" y="1968.3" font-size="22.5" fill="#e389e3" textLength="51.8" lengthAdjust="spacingAndGlyphs">03.04</text>
<rect x="2237.9" y="1946" width="59.2" height="30.5" rx="3" fill="#0c0c0c" stroke="#2c2c2c" stroke-width="1.2"/>
<text x="2243.2" y="1968.3" font-size="22.5" fill="#e389e3" textLength="47.6" lengthAdjust="spacingAndGlyphs">10.04</text>
<rect x="2287.9" y="1946" width="59.2" height="30.5" rx="3" fill="#0c0c0c" stroke="#2c2c2c" stroke-width="1.2"/>
<text x="2293.2" y="1968.3" font-size="22.5" fill="#e389e3" textLength="47.6" lengthAdjust="spacingAndGlyphs">17.04</text>
<rect x="2334.8" y="1946" width="63.4" height="30.5" rx="3" fill="#0c0c0c" stroke="#2c2c2c" stroke-width="1.2"/>
<text x="2340.1" y="1968.3" font-size="22.5" fill="#e389e3" textLength="51.8" lengthAdjust="spacingAndGlyphs">24.04</text>
<rect x="2398.8" y="1945.6" width="20" height="31.3" fill="#000"/>
<text x="2399.2" y="1968.3" font-size="22.5" fill="#e6e6e6" textLength="9" lengthAdjust="spacingAndGlyphs">4</text>
<rect x="1584" y="1945.6" width="10" height="31.3" fill="#000"/>
<clipPath id="cpz"><rect x="1584.6" y="1945" width="9" height="32"/></clipPath>
<text x="1576.5" y="1968.3" font-size="22.5" fill="#fff" clip-path="url(#cpz)" textLength="15.5" lengthAdjust="spacingAndGlyphs">0.</text>
<rect x="1593.3" y="1945.6" width="84.5" height="31" rx="3" fill="#bdbdbd"/>
<text x="1599" y="1968.3" font-size="22.5" fill="#000" textLength="73" lengthAdjust="spacingAndGlyphs">06.01.23</text>
<rect x="3717" y="0" width="121" height="1978" fill="#000"/>
<rect x="3717" y="0" width="2" height="1978" fill="#2b2b2b"/>
<rect x="3717" y="1462.2" width="121" height="1.9" fill="#2e2e2e"/>
<rect x="3717" y="1750.0" width="121" height="1.9" fill="#2e2e2e"/>
<text x="3728.5" y="41.5" font-size="19" fill="#fff">295</text>
<text x="3728.5" y="76.5" font-size="19" fill="#fff">290</text>
<text x="3728.5" y="111.5" font-size="19" fill="#fff">285</text>
<text x="3728.5" y="146.5" font-size="19" fill="#fff">280</text>
<text x="3728.5" y="181.5" font-size="19" fill="#fff">275</text>
<text x="3728.5" y="216.5" font-size="19" fill="#fff">270</text>
<text x="3728.5" y="251.5" font-size="19" fill="#fff">265</text>
<text x="3728.5" y="286.5" font-size="19" fill="#fff">260</text>
<text x="3728.5" y="321.5" font-size="19" fill="#fff">255</text>
<text x="3728.5" y="356.5" font-size="19" fill="#fff">250</text>
<text x="3728.5" y="391.5" font-size="19" fill="#fff">245</text>
<text x="3728.5" y="426.5" font-size="19" fill="#fff">240</text>
<text x="3728.5" y="461.5" font-size="19" fill="#fff">235</text>
<text x="3728.5" y="496.5" font-size="19" fill="#fff">230</text>
<text x="3728.5" y="531.5" font-size="19" fill="#fff">225</text>
<text x="3728.5" y="566.5" font-size="19" fill="#fff">220</text>
<text x="3728.5" y="601.5" font-size="19" fill="#fff">215</text>
<text x="3728.5" y="636.5" font-size="19" fill="#fff">210</text>
<text x="3728.5" y="671.5" font-size="19" fill="#fff">205</text>
<text x="3728.5" y="706.5" font-size="19" fill="#fff">200</text>
<text x="3728.5" y="741.5" font-size="19" fill="#fff">195</text>
<text x="3728.5" y="776.5" font-size="19" fill="#fff">190</text>
<text x="3728.5" y="811.5" font-size="19" fill="#fff">185</text>
<text x="3728.5" y="846.5" font-size="19" fill="#fff">180</text>
<text x="3728.5" y="881.5" font-size="19" fill="#fff">175</text>
<text x="3728.5" y="916.5" font-size="19" fill="#fff">170</text>
<text x="3728.5" y="951.5" font-size="19" fill="#fff">165</text>
<text x="3728.5" y="986.5" font-size="19" fill="#fff">160</text>
<text x="3728.5" y="1021.5" font-size="19" fill="#fff">155</text>
<text x="3728.5" y="1056.5" font-size="19" fill="#fff">150</text>
<text x="3728.5" y="1091.5" font-size="19" fill="#fff">145</text>
<text x="3728.5" y="1126.5" font-size="19" fill="#fff">140</text>
<text x="3728.5" y="1161.5" font-size="19" fill="#fff">135</text>
<text x="3728.5" y="1196.5" font-size="19" fill="#fff">130</text>
<text x="3728.5" y="1231.5" font-size="19" fill="#fff">125</text>
<text x="3728.5" y="1266.5" font-size="19" fill="#fff">120</text>
<text x="3728.5" y="1301.5" font-size="19" fill="#fff">115</text>
<text x="3728.5" y="1336.5" font-size="19" fill="#fff">110</text>
<text x="3728.5" y="1371.5" font-size="19" fill="#fff">105</text>
<text x="3728.5" y="1406.5" font-size="19" fill="#fff">100</text>
<text x="3728.5" y="1441.5" font-size="19" fill="#fff">95</text>
<path d="M3719 34.5h4M3719 69.5h4M3719 104.5h4M3719 139.5h4M3719 174.5h4M3719 209.5h4M3719 244.5h4M3719 279.5h4M3719 314.5h4M3719 349.5h4M3719 384.5h4M3719 419.5h4M3719 454.5h4M3719 489.5h4M3719 524.5h4M3719 559.5h4M3719 594.5h4M3719 629.5h4M3719 664.5h4M3719 699.5h4M3719 734.5h4M3719 769.5h4M3719 804.5h4M3719 839.5h4M3719 874.5h4M3719 909.5h4M3719 944.5h4M3719 979.5h4M3719 1014.5h4M3719 1049.5h4M3719 1084.5h4M3719 1119.5h4M3719 1154.5h4M3719 1189.5h4M3719 1224.5h4M3719 1259.5h4M3719 1294.5h4M3719 1329.5h4M3719 1364.5h4M3719 1399.5h4M3719 1434.5h4" stroke="#777" stroke-width="1.5"/>
<text x="3724" y="1491.6" font-size="18" fill="#fff">36 000 000</text>
<text x="3724" y="1520.9" font-size="18" fill="#fff">32 000 000</text>
<text x="3724" y="1550.1" font-size="18" fill="#fff">28 000 000</text>
<text x="3724" y="1579.4" font-size="18" fill="#fff">24 000 000</text>
<text x="3724" y="1608.7" font-size="18" fill="#fff">20 000 000</text>
<text x="3724" y="1637.9" font-size="18" fill="#fff">16 000 000</text>
<text x="3724" y="1667.2" font-size="18" fill="#fff">12 000 000</text>
<text x="3724" y="1696.5" font-size="18" fill="#fff">8 000 000</text>
<text x="3724" y="1725.7" font-size="18" fill="#fff">4 000 000</text>
<text x="3724" y="1788.4" font-size="18" fill="#fff">2 100 000</text>
<text x="3724" y="1814.3" font-size="18" fill="#fff">1 400 000</text>
<text x="3724" y="1840.2" font-size="18" fill="#fff">700 000</text>
<text x="3724" y="1866.1" font-size="18" fill="#fff">0</text>
<text x="3724" y="1892.0" font-size="18" fill="#fff">-700 000</text>
<text x="3724" y="1917.9" font-size="18" fill="#fff">-1 400 000</text>
<text x="3724" y="1943.8" font-size="18" fill="#fff">-2 100 000</text>
<rect x="3720" y="127.0" width="117.5" height="30.5" rx="3" fill="#4a0000" stroke="#c81a1a" stroke-width="1.6"/>
<text x="3722.5" y="149.1" font-size="19" fill="#fff" font-weight="bold">279.6</text>
<rect x="3718.5" y="378.1" width="119.5" height="30.7" rx="3" fill="#d3d3d3"/>
<text x="3722.5" y="400.3" font-size="19" fill="#000">243.68</text>
<rect x="3718.5" y="466.7" width="119.5" height="31.3" rx="3" fill="#adadad"/>
<text x="3722.5" y="489.2" font-size="19" fill="#000">231</text>
<rect x="3720" y="767.5" width="117.5" height="30.5" rx="3" fill="#1f2d4d" stroke="#5b86d6" stroke-width="1.6"/>
<text x="3722.5" y="789.5" font-size="19" fill="#fff" font-weight="bold">188.1</text>
<rect x="3720" y="1408.0" width="117.5" height="31.0" rx="3" fill="#4a0000" stroke="#c81a1a" stroke-width="1.6"/>
<text x="3722.5" y="1430.3" font-size="19" fill="#fff" font-weight="bold">96.6</text>
<rect x="3719" y="1726.8" width="119" height="22.4" fill="#161616"/>
<text x="3723.5" y="1744.6" font-size="19" font-weight="bold" fill="#fff">2 654 280</text>
<rect x="3719.3" y="1839.2" width="119" height="22.4" rx="4" fill="#22a022"/>
<text x="3723.5" y="1857.5" font-size="19" font-weight="bold" fill="#fff">289 092</text>
<rect x="0" y="1976.3" width="3838" height="1.7" fill="#2c2c2c"/>
</svg></body></html>
